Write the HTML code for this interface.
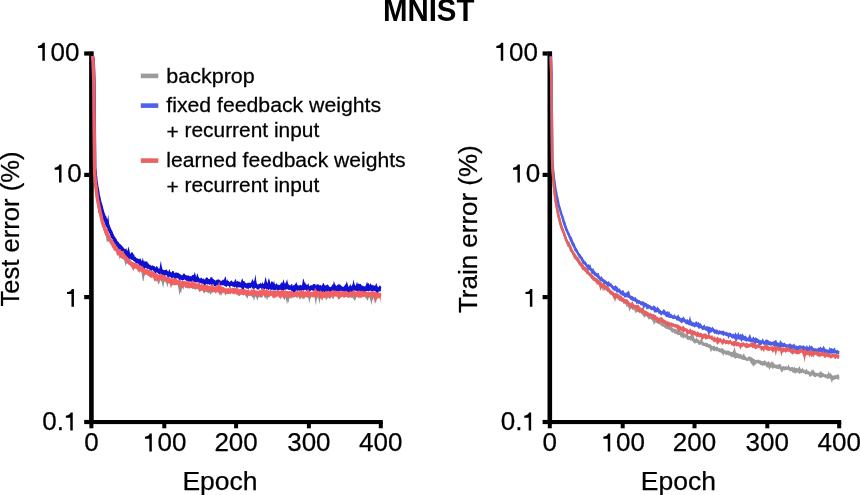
<!DOCTYPE html>
<html><head><meta charset="utf-8"><title>MNIST</title>
<style>
html,body{margin:0;padding:0;background:#fff;overflow:hidden;}
svg{display:block;will-change:transform;}
text{font-family:"Liberation Sans",sans-serif;fill:#000;stroke:#000;stroke-width:0.25px;}
</style></head><body>
<svg width="860" height="495" viewBox="0 0 860 495">
<rect width="860" height="495" fill="#fff"/>
<text transform="translate(428.70 21.30) scale(0.9350 1)" font-size="31.50" text-anchor="middle" font-weight="bold" style="stroke:none">MNIST</text>
<g fill="#000">
<rect x="89.10" y="51.3" width="4.6" height="372.8"/>
<rect x="89.10" y="420" width="293.70" height="4.1"/>
<rect x="84.20" y="51.40" width="5.2" height="4.2"/>
<rect x="84.20" y="172.80" width="5.2" height="4.2"/>
<rect x="84.20" y="295.00" width="5.2" height="4.2"/>
<rect x="84.20" y="419.90" width="5.2" height="4.2"/>
<rect x="89.40" y="422" width="4" height="6.3"/>
<rect x="162.30" y="422" width="4" height="6.3"/>
<rect x="234.10" y="422" width="4" height="6.3"/>
<rect x="306.90" y="422" width="4" height="6.3"/>
<rect x="378.80" y="422" width="4" height="6.3"/>
<rect x="547.50" y="51.3" width="4.6" height="372.8"/>
<rect x="547.50" y="420" width="293.70" height="4.1"/>
<rect x="542.60" y="51.40" width="5.2" height="4.2"/>
<rect x="542.60" y="172.80" width="5.2" height="4.2"/>
<rect x="542.60" y="295.00" width="5.2" height="4.2"/>
<rect x="542.60" y="419.90" width="5.2" height="4.2"/>
<rect x="547.80" y="422" width="4" height="6.3"/>
<rect x="620.70" y="422" width="4" height="6.3"/>
<rect x="692.50" y="422" width="4" height="6.3"/>
<rect x="765.30" y="422" width="4" height="6.3"/>
<rect x="837.20" y="422" width="4" height="6.3"/>
</g>
<g>
<path d="M92.4 56.4L93.1 61.3L93.8 82.8L94.6 172.3L95.3 180.8L96.0 187.1L96.7 192.3L97.4 196.3L98.2 201.3L98.9 203.8L99.6 207.7L100.3 212.1L101.1 215.1L101.8 215.8L102.5 219.3L103.2 221.5L103.9 225.2L104.7 226.2L105.4 228.7L106.1 230.9L106.8 233.2L107.5 233.0L108.3 234.0L109.0 236.2L109.7 237.6L110.4 238.6L111.1 239.4L111.9 240.4L112.6 240.8L113.3 243.0L114.0 243.7L114.8 244.5L115.5 246.3L116.2 247.3L116.9 248.6L117.6 248.2L118.4 249.1L119.1 250.3L119.8 250.2L120.5 251.5L121.2 252.8L122.0 253.6L122.7 254.2L123.4 254.2L124.1 255.7L124.8 253.5L125.6 253.9L126.3 257.5L127.0 258.1L127.7 258.9L128.4 258.0L129.2 257.5L129.9 259.4L130.6 260.3L131.3 261.3L132.1 262.4L132.8 262.5L133.5 262.0L134.2 262.9L134.9 263.3L135.7 263.1L136.4 264.7L137.1 262.6L137.8 264.2L138.5 264.8L139.3 264.6L140.0 266.2L140.7 266.7L141.4 266.9L142.1 267.7L142.9 268.5L143.6 268.6L144.3 267.1L145.0 269.1L145.8 270.1L146.5 270.4L147.2 270.5L147.9 269.9L148.6 269.9L149.4 268.0L150.1 270.3L150.8 272.7L151.5 272.0L152.2 270.9L153.0 272.1L153.7 273.2L154.4 272.8L155.1 273.3L155.8 275.2L156.6 275.1L157.3 275.5L158.0 275.4L158.7 274.5L159.5 274.7L160.2 275.1L160.9 276.0L161.6 275.9L162.3 274.7L163.1 274.6L163.8 276.7L164.5 275.7L165.2 275.6L165.9 275.5L166.7 277.8L167.4 278.5L168.1 277.5L168.8 277.7L169.5 278.1L170.3 278.1L171.0 279.6L171.7 279.1L172.4 279.4L173.2 279.2L173.9 279.0L174.6 279.1L175.3 279.0L176.0 280.9L176.8 280.3L177.5 280.4L178.2 280.2L178.9 282.4L179.6 281.2L180.4 281.4L181.1 282.0L181.8 281.1L182.5 281.8L183.2 281.6L184.0 281.9L184.7 281.8L185.4 283.6L186.1 283.2L186.9 283.3L187.6 282.4L188.3 283.2L189.0 283.7L189.7 283.6L190.5 283.3L191.2 283.0L191.9 283.8L192.6 283.3L193.3 284.2L194.1 284.1L194.8 284.7L195.5 284.5L196.2 283.8L196.9 284.1L197.7 284.4L198.4 284.2L199.1 282.3L199.8 283.2L200.6 285.0L201.3 285.7L202.0 285.0L202.7 285.7L203.4 286.7L204.2 287.0L204.9 286.9L205.6 286.4L206.3 285.3L207.0 284.2L207.8 285.0L208.5 285.8L209.2 286.8L209.9 286.7L210.6 286.3L211.4 287.3L212.1 286.3L212.8 286.1L213.5 287.6L214.2 287.3L215.0 287.8L215.7 286.9L216.4 285.1L217.1 283.2L217.9 286.4L218.6 286.7L219.3 287.7L220.0 287.9L220.7 288.6L221.5 289.4L222.2 288.0L222.9 287.6L223.6 287.9L224.3 288.8L225.1 289.6L225.8 289.4L226.5 288.4L227.2 287.6L227.9 290.1L228.7 289.0L229.4 288.4L230.1 289.5L230.8 289.6L231.6 289.1L232.3 287.8L233.0 287.5L233.7 288.3L234.4 290.0L235.2 289.9L235.9 289.7L236.6 289.0L237.3 289.4L238.0 290.0L238.8 289.6L239.5 289.1L240.2 289.7L240.9 289.5L241.6 289.4L242.4 289.8L243.1 289.7L243.8 290.0L244.5 288.7L245.3 289.2L246.0 290.0L246.7 290.8L247.4 291.0L248.1 290.3L248.9 291.0L249.6 291.3L250.3 291.6L251.0 292.1L251.7 291.6L252.5 291.8L253.2 290.3L253.9 289.9L254.6 291.6L255.3 290.6L256.1 291.2L256.8 290.8L257.5 291.2L258.2 291.1L259.0 290.6L259.7 289.6L260.4 289.5L261.1 291.6L261.8 290.5L262.6 290.1L263.3 291.5L264.0 290.8L264.7 291.6L265.4 291.8L266.2 291.0L266.9 291.1L267.6 291.8L268.3 292.2L269.0 291.8L269.8 291.6L270.5 291.8L271.2 291.9L271.9 292.0L272.6 290.4L273.4 289.3L274.1 290.7L274.8 290.5L275.5 290.9L276.3 291.5L277.0 291.9L277.7 291.7L278.4 292.2L279.1 290.8L279.9 290.9L280.6 292.4L281.3 292.0L282.0 292.4L282.7 292.0L283.5 292.5L284.2 290.8L284.9 291.6L285.6 292.5L286.3 291.8L287.1 291.6L287.8 291.7L288.5 292.8L289.2 291.0L290.0 290.8L290.7 291.8L291.4 292.5L292.1 291.5L292.8 291.5L293.6 291.2L294.3 291.6L295.0 292.0L295.7 292.0L296.4 292.1L297.2 292.2L297.9 291.8L298.6 291.8L299.3 291.5L300.0 292.3L300.8 292.2L301.5 293.0L302.2 292.3L302.9 293.5L303.7 293.7L304.4 292.3L305.1 291.5L305.8 292.2L306.5 291.6L307.3 291.7L308.0 291.0L308.7 291.3L309.4 292.4L310.1 292.3L310.9 292.0L311.6 291.7L312.3 292.1L313.0 292.3L313.7 292.6L314.5 292.2L315.2 293.1L315.9 293.1L316.6 292.4L317.4 291.7L318.1 291.9L318.8 292.5L319.5 291.8L320.2 291.9L321.0 291.6L321.7 291.9L322.4 293.3L323.1 293.1L323.8 291.9L324.6 291.9L325.3 290.7L326.0 292.5L326.7 293.0L327.4 292.9L328.2 291.2L328.9 291.4L329.6 292.2L330.3 290.9L331.1 291.6L331.8 292.6L332.5 292.1L333.2 293.0L333.9 292.3L334.7 292.1L335.4 291.9L336.1 292.1L336.8 292.3L337.5 292.0L338.3 293.0L339.0 291.5L339.7 291.3L340.4 292.0L341.1 291.9L341.9 292.4L342.6 292.3L343.3 292.1L344.0 292.1L344.8 293.3L345.5 292.7L346.2 292.9L346.9 293.0L347.6 293.2L348.4 292.2L349.1 292.1L349.8 291.4L350.5 292.6L351.2 292.5L352.0 291.3L352.7 292.8L353.4 291.6L354.1 293.0L354.8 292.9L355.6 293.0L356.3 291.6L357.0 291.8L357.7 291.9L358.4 292.6L359.2 293.5L359.9 291.1L360.6 292.5L361.3 291.4L362.1 291.0L362.8 290.9L363.5 291.4L364.2 291.0L364.9 291.4L365.7 292.1L366.4 293.0L367.1 294.1L367.8 292.2L368.5 292.2L369.3 291.8L370.0 293.6L370.7 292.1L371.4 292.9L372.1 293.0L372.9 292.2L373.6 291.3L374.3 291.7L375.0 292.3L375.8 293.1L376.5 294.2L377.2 293.3L377.9 291.9L378.6 292.5L379.4 293.3L380.1 293.6L380.8 293.8L380.8 297.3L380.1 297.2L379.4 297.6L378.6 297.2L377.9 296.8L377.2 298.6L376.5 300.6L375.8 303.3L375.0 300.4L374.3 296.8L373.6 297.3L372.9 299.4L372.1 300.7L371.4 305.6L370.7 301.2L370.0 299.0L369.3 297.1L368.5 298.3L367.8 300.9L367.1 299.8L366.4 298.7L365.7 298.2L364.9 296.8L364.2 296.5L363.5 297.0L362.8 296.5L362.1 295.7L361.3 295.6L360.6 295.7L359.9 295.8L359.2 297.1L358.4 297.4L357.7 296.7L357.0 296.0L356.3 297.0L355.6 299.5L354.8 301.2L354.1 299.4L353.4 298.8L352.7 298.2L352.0 297.2L351.2 298.3L350.5 297.6L349.8 296.4L349.1 297.5L348.4 297.9L347.6 297.3L346.9 296.8L346.2 297.4L345.5 296.7L344.8 297.6L344.0 297.6L343.3 296.7L342.6 296.4L341.9 297.0L341.1 297.3L340.4 297.4L339.7 297.5L339.0 296.9L338.3 296.7L337.5 296.8L336.8 296.8L336.1 296.5L335.4 296.2L334.7 296.3L333.9 297.3L333.2 299.0L332.5 298.5L331.8 296.9L331.1 296.4L330.3 298.6L329.6 298.8L328.9 297.8L328.2 296.9L327.4 298.6L326.7 299.5L326.0 300.6L325.3 297.3L324.6 297.7L323.8 296.8L323.1 297.7L322.4 297.1L321.7 297.1L321.0 297.8L320.2 299.4L319.5 304.2L318.8 300.0L318.1 297.7L317.4 297.3L316.6 300.1L315.9 305.7L315.2 301.1L314.5 297.2L313.7 297.0L313.0 296.3L312.3 297.3L311.6 296.5L310.9 297.5L310.1 299.5L309.4 303.5L308.7 299.4L308.0 296.7L307.3 298.2L306.5 297.0L305.8 296.9L305.1 296.7L304.4 298.7L303.7 299.6L302.9 297.5L302.2 299.2L301.5 297.1L300.8 297.1L300.0 299.5L299.3 298.7L298.6 296.5L297.9 296.8L297.2 298.8L296.4 297.4L295.7 296.4L295.0 295.8L294.3 296.7L293.6 297.8L292.8 296.2L292.1 296.3L291.4 298.5L290.7 299.3L290.0 296.7L289.2 299.1L288.5 303.0L287.8 300.4L287.1 304.8L286.3 300.4L285.6 297.8L284.9 296.8L284.2 296.5L283.5 299.1L282.7 297.1L282.0 296.5L281.3 298.5L280.6 299.6L279.9 297.1L279.1 295.9L278.4 295.6L277.7 296.3L277.0 295.8L276.3 296.9L275.5 296.1L274.8 295.1L274.1 296.7L273.4 295.2L272.6 296.0L271.9 296.4L271.2 295.6L270.5 295.9L269.8 296.7L269.0 297.2L268.3 296.8L267.6 299.2L266.9 300.1L266.2 296.7L265.4 298.4L264.7 298.2L264.0 295.6L263.3 295.5L262.6 296.4L261.8 298.0L261.1 297.6L260.4 297.4L259.7 297.2L259.0 296.5L258.2 298.1L257.5 300.6L256.8 299.0L256.1 296.9L255.3 296.5L254.6 298.6L253.9 301.4L253.2 297.3L252.5 297.7L251.7 296.4L251.0 296.1L250.3 295.2L249.6 296.2L248.9 295.6L248.1 296.0L247.4 299.2L246.7 297.5L246.0 296.3L245.3 295.2L244.5 294.5L243.8 295.2L243.1 295.4L242.4 294.9L241.6 294.6L240.9 294.6L240.2 295.5L239.5 296.3L238.8 295.7L238.0 295.6L237.3 294.1L236.6 293.6L235.9 293.4L235.2 293.6L234.4 294.4L233.7 293.1L233.0 292.8L232.3 292.4L231.6 292.6L230.8 293.5L230.1 293.6L229.4 293.5L228.7 293.6L227.9 294.3L227.2 294.1L226.5 293.6L225.8 295.5L225.1 294.9L224.3 293.1L223.6 291.3L222.9 291.8L222.2 292.8L221.5 295.7L220.7 293.9L220.0 294.3L219.3 294.0L218.6 292.9L217.9 292.3L217.1 291.9L216.4 291.2L215.7 291.7L215.0 292.6L214.2 291.7L213.5 291.9L212.8 291.8L212.1 291.5L211.4 293.7L210.6 294.8L209.9 293.7L209.2 292.0L208.5 293.6L207.8 292.8L207.0 292.2L206.3 291.8L205.6 291.7L204.9 291.6L204.2 293.7L203.4 292.3L202.7 290.7L202.0 289.6L201.3 290.8L200.6 290.9L199.8 292.5L199.1 291.1L198.4 289.5L197.7 288.7L196.9 288.6L196.2 289.5L195.5 289.8L194.8 289.3L194.1 289.1L193.3 288.3L192.6 289.0L191.9 287.9L191.2 287.7L190.5 288.3L189.7 288.7L189.0 287.7L188.3 287.9L187.6 286.6L186.9 287.4L186.1 287.8L185.4 288.2L184.7 285.9L184.0 287.3L183.2 290.1L182.5 287.9L181.8 288.4L181.1 293.8L180.4 290.9L179.6 296.0L178.9 291.6L178.2 287.0L177.5 284.5L176.8 284.6L176.0 285.3L175.3 285.3L174.6 284.7L173.9 284.5L173.2 285.7L172.4 285.0L171.7 285.3L171.0 284.6L170.3 284.5L169.5 283.2L168.8 283.1L168.1 284.4L167.4 287.8L166.7 284.2L165.9 282.5L165.2 281.1L164.5 281.1L163.8 284.1L163.1 288.2L162.3 284.5L161.6 281.7L160.9 280.2L160.2 279.6L159.5 283.1L158.7 284.7L158.0 282.5L157.3 280.1L156.6 281.7L155.8 281.1L155.1 280.4L154.4 278.3L153.7 277.1L153.0 276.7L152.2 277.7L151.5 278.1L150.8 277.7L150.1 276.4L149.4 275.4L148.6 275.0L147.9 274.8L147.2 274.7L146.5 274.8L145.8 274.0L145.0 274.6L144.3 276.7L143.6 281.0L142.9 280.9L142.1 276.2L141.4 272.2L140.7 271.3L140.0 270.3L139.3 270.0L138.5 271.6L137.8 271.8L137.1 269.5L136.4 268.3L135.7 268.5L134.9 268.5L134.2 268.4L133.5 268.2L132.8 267.5L132.1 267.0L131.3 265.8L130.6 265.3L129.9 265.1L129.2 264.6L128.4 263.3L127.7 263.8L127.0 263.6L126.3 263.7L125.6 266.2L124.8 262.6L124.1 260.2L123.4 259.1L122.7 258.6L122.0 258.9L121.2 257.9L120.5 257.5L119.8 259.8L119.1 256.9L118.4 254.1L117.6 255.9L116.9 255.3L116.2 252.8L115.5 250.5L114.8 249.9L114.0 248.7L113.3 247.8L112.6 248.4L111.9 245.9L111.1 244.1L110.4 243.3L109.7 241.6L109.0 241.2L108.3 241.4L107.5 241.4L106.8 242.3L106.1 237.7L105.4 233.9L104.7 231.0L103.9 228.9L103.2 226.4L102.5 225.4L101.8 225.9L101.1 220.5L100.3 217.1L99.6 213.1L98.9 212.9L98.2 213.0L97.4 203.9L96.7 196.4L96.0 191.2L95.3 182.8L94.6 173.0L93.8 82.8L93.1 61.3L92.4 56.4Z" fill="#8f8f8f"/>
<path d="M92.4 56.4L93.1 61.3L93.8 82.8L94.6 172.6L95.3 181.7L96.0 188.2L96.7 193.6L97.4 198.7L98.2 203.0L98.9 206.5L99.6 210.1L100.3 213.8L101.1 216.8L101.8 219.0L102.5 221.3L103.2 223.5L103.9 226.8L104.7 228.8L105.4 231.0L106.1 232.8L106.8 235.0L107.5 236.5L108.3 237.5L109.0 238.9L109.7 239.7L110.4 241.2L111.1 241.8L111.9 243.5L112.6 245.0L113.3 245.7L114.0 246.3L114.8 247.0L115.5 248.3L116.2 249.9L116.9 250.7L117.6 250.9L118.4 251.3L119.1 252.5L119.8 252.7L120.5 253.5L121.2 254.5L122.0 255.8L122.7 256.5L123.4 257.2L124.1 257.6L124.8 258.0L125.6 259.1L126.3 260.1L127.0 260.3L127.7 260.8L128.4 261.3L129.2 262.2L129.9 262.8L130.6 263.3L131.3 263.8L132.1 264.5L132.8 264.3L133.5 264.5L134.2 265.0L134.9 265.8L135.7 265.9L136.4 266.4L137.1 267.5L137.8 268.3L138.5 268.0L139.3 267.1L140.0 267.8L140.7 268.4L141.4 268.9L142.1 269.9L142.9 271.1L143.6 270.8L144.3 270.9L145.0 271.7L145.8 272.0L146.5 272.2L147.2 272.3L147.9 272.9L148.6 273.2L149.4 272.5L150.1 273.0L150.8 274.6L151.5 275.0L152.2 274.6L153.0 274.5L153.7 275.0L154.4 275.1L155.1 275.9L155.8 277.0L156.6 277.0L157.3 277.3L158.0 277.2L158.7 277.6L159.5 278.0L160.2 277.3L160.9 277.7L161.6 278.2L162.3 278.8L163.1 279.6L163.8 279.3L164.5 278.6L165.2 278.9L165.9 279.0L166.7 279.6L167.4 280.7L168.1 280.1L168.8 280.3L169.5 280.5L170.3 281.2L171.0 281.4L171.7 281.4L172.4 281.6L173.2 282.0L173.9 281.5L174.6 281.4L175.3 281.8L176.0 282.8L176.8 282.5L177.5 282.1L178.2 282.9L178.9 284.1L179.6 283.7L180.4 283.9L181.1 283.9L181.8 283.7L182.5 283.5L183.2 283.8L184.0 283.7L184.7 283.7L185.4 285.5L186.1 285.5L186.9 285.0L187.6 284.8L188.3 284.9L189.0 285.6L189.7 285.6L190.5 285.6L191.2 285.2L191.9 286.1L192.6 286.9L193.3 286.4L194.1 286.6L194.8 286.7L195.5 287.2L196.2 287.3L196.9 286.9L197.7 286.7L198.4 287.1L199.1 287.2L199.8 287.1L200.6 287.6L201.3 287.7L202.0 287.3L202.7 288.1L203.4 289.4L204.2 288.9L204.9 288.7L205.6 289.3L206.3 288.2L207.0 287.0L207.8 287.1L208.5 287.8L209.2 288.8L209.9 289.1L210.6 288.3L211.4 289.1L212.1 288.9L212.8 289.3L213.5 289.7L214.2 289.8L215.0 289.7L215.7 289.6L216.4 289.3L217.1 290.0L217.9 290.6L218.6 291.0L219.3 291.6L220.0 291.2L220.7 291.1L221.5 291.3L222.2 290.7L222.9 289.7L223.6 289.6L224.3 291.1L225.1 291.4L225.8 291.3L226.5 291.0L227.2 291.4L227.9 292.1L228.7 291.4L229.4 290.7L230.1 291.2L230.8 291.8L231.6 290.8L232.3 289.9L233.0 290.0L233.7 290.8L234.4 291.9L235.2 291.8L235.9 291.3L236.6 291.2L237.3 291.7L238.0 291.9L238.8 291.8L239.5 291.8L240.2 292.1L240.9 292.6L241.6 291.5L242.4 291.9L243.1 292.1L243.8 292.6L244.5 292.6L245.3 292.8L246.0 292.9L246.7 293.0L247.4 293.0L248.1 292.4L248.9 293.0L249.6 293.0L250.3 293.3L251.0 293.9L251.7 294.0L252.5 293.8L253.2 292.2L253.9 292.5L254.6 293.3L255.3 292.8L256.1 293.2L256.8 294.1L257.5 293.8L258.2 293.1L259.0 293.5L259.7 293.8L260.4 293.5L261.1 293.4L261.8 293.3L262.6 292.9L263.3 293.2L264.0 293.2L264.7 293.7L265.4 293.8L266.2 293.4L266.9 293.9L267.6 294.0L268.3 293.9L269.0 294.0L269.8 293.7L270.5 293.7L271.2 293.8L271.9 294.0L272.6 294.0L273.4 293.0L274.1 293.1L274.8 292.9L275.5 293.5L276.3 294.0L277.0 294.2L277.7 294.5L278.4 293.9L279.1 292.7L279.9 293.4L280.6 294.8L281.3 295.0L282.0 294.1L282.7 293.7L283.5 294.6L284.2 293.6L284.9 294.0L285.6 294.2L286.3 294.1L287.1 293.6L287.8 294.0L288.5 294.5L289.2 293.9L290.0 293.5L290.7 294.0L291.4 294.2L292.1 294.1L292.8 293.9L293.6 294.4L294.3 294.1L295.0 293.8L295.7 294.2L296.4 294.3L297.2 294.1L297.9 293.4L298.6 293.8L299.3 294.5L300.0 294.9L300.8 294.7L301.5 294.6L302.2 294.8L302.9 295.2L303.7 295.4L304.4 294.8L305.1 294.3L305.8 294.2L306.5 293.6L307.3 294.1L308.0 294.2L308.7 294.4L309.4 294.6L310.1 294.3L310.9 293.7L311.6 293.9L312.3 294.0L313.0 294.4L313.7 294.5L314.5 294.2L315.2 294.8L315.9 295.1L316.6 294.6L317.4 294.5L318.1 293.8L318.8 294.1L319.5 294.6L320.2 293.7L321.0 293.8L321.7 294.2L322.4 295.0L323.1 295.1L323.8 294.4L324.6 294.0L325.3 293.4L326.0 294.5L326.7 295.0L327.4 294.8L328.2 293.7L328.9 294.2L329.6 294.0L330.3 293.1L331.1 293.8L331.8 294.5L332.5 294.9L333.2 294.6L333.9 294.4L334.7 294.6L335.4 294.4L336.1 294.0L336.8 294.0L337.5 294.4L338.3 294.9L339.0 295.3L339.7 294.8L340.4 295.2L341.1 295.1L341.9 295.0L342.6 294.2L343.3 293.9L344.0 294.4L344.8 294.9L345.5 294.9L346.2 295.0L346.9 295.0L347.6 295.1L348.4 294.7L349.1 294.4L349.8 294.7L350.5 295.0L351.2 295.4L352.0 294.8L352.7 294.6L353.4 294.7L354.1 295.2L354.8 295.3L355.6 294.9L356.3 293.9L357.0 293.8L357.7 294.6L358.4 295.2L359.2 295.2L359.9 294.1L360.6 294.1L361.3 293.8L362.1 294.0L362.8 294.6L363.5 295.1L364.2 294.5L364.9 294.3L365.7 294.7L366.4 295.7L367.1 295.8L367.8 294.4L368.5 294.4L369.3 294.8L370.0 295.4L370.7 295.5L371.4 295.5L372.1 294.7L372.9 294.7L373.6 294.6L374.3 294.4L375.0 294.6L375.8 294.8L376.5 295.9L377.2 295.4L377.9 294.6L378.6 294.9L379.4 295.7L380.1 295.3L380.8 295.5" stroke="#8f8f8f" stroke-width="2.80" fill="none" stroke-linejoin="round"/>
<path d="M92.4 56.1L93.1 60.4L93.8 79.4L94.6 166.7L95.3 172.8L96.0 178.3L96.7 180.8L97.4 186.7L98.2 191.9L98.9 196.4L99.6 198.8L100.3 201.9L101.1 202.2L101.8 204.1L102.5 207.8L103.2 211.3L103.9 212.9L104.7 214.7L105.4 216.1L106.1 215.6L106.8 219.1L107.5 219.0L108.3 214.7L109.0 222.8L109.7 226.3L110.4 229.3L111.1 230.2L111.9 232.3L112.6 233.8L113.3 234.7L114.0 236.0L114.8 237.6L115.5 238.5L116.2 238.6L116.9 241.2L117.6 242.6L118.4 241.7L119.1 242.9L119.8 244.8L120.5 244.6L121.2 245.1L122.0 245.8L122.7 246.4L123.4 248.0L124.1 248.4L124.8 249.9L125.6 248.9L126.3 248.1L127.0 251.1L127.7 250.0L128.4 246.2L129.2 249.2L129.9 252.7L130.6 253.9L131.3 252.2L132.1 252.2L132.8 252.7L133.5 254.4L134.2 254.6L134.9 257.5L135.7 256.4L136.4 258.4L137.1 258.2L137.8 258.6L138.5 258.9L139.3 259.2L140.0 258.2L140.7 258.7L141.4 260.8L142.1 260.4L142.9 257.6L143.6 261.3L144.3 260.8L145.0 262.3L145.8 261.1L146.5 261.5L147.2 261.4L147.9 263.0L148.6 263.6L149.4 264.9L150.1 264.4L150.8 265.6L151.5 266.2L152.2 265.6L153.0 265.4L153.7 266.1L154.4 266.1L155.1 267.7L155.8 267.2L156.6 266.1L157.3 266.4L158.0 267.8L158.7 269.6L159.5 268.3L160.2 264.5L160.9 260.5L161.6 265.4L162.3 268.8L163.1 269.8L163.8 270.2L164.5 270.2L165.2 269.8L165.9 269.9L166.7 269.2L167.4 271.2L168.1 272.0L168.8 270.5L169.5 269.1L170.3 271.6L171.0 272.6L171.7 272.2L172.4 270.8L173.2 271.0L173.9 271.4L174.6 273.8L175.3 273.0L176.0 271.8L176.8 273.0L177.5 272.8L178.2 272.7L178.9 273.3L179.6 274.0L180.4 274.3L181.1 275.1L181.8 275.3L182.5 275.3L183.2 273.7L184.0 273.6L184.7 273.7L185.4 274.9L186.1 275.6L186.9 275.2L187.6 275.8L188.3 275.4L189.0 275.3L189.7 276.5L190.5 276.0L191.2 276.5L191.9 275.6L192.6 275.1L193.3 275.0L194.1 274.3L194.8 272.0L195.5 274.6L196.2 277.0L196.9 274.8L197.7 273.3L198.4 276.7L199.1 277.7L199.8 279.1L200.6 278.0L201.3 277.6L202.0 278.2L202.7 279.8L203.4 278.3L204.2 279.1L204.9 280.0L205.6 278.1L206.3 277.4L207.0 277.5L207.8 277.7L208.5 278.9L209.2 278.9L209.9 279.2L210.6 277.0L211.4 277.4L212.1 276.6L212.8 278.9L213.5 278.9L214.2 279.8L215.0 280.2L215.7 280.7L216.4 280.1L217.1 279.2L217.9 280.1L218.6 279.1L219.3 280.2L220.0 279.6L220.7 281.2L221.5 281.2L222.2 279.5L222.9 280.6L223.6 279.4L224.3 279.2L225.1 276.2L225.8 277.2L226.5 281.1L227.2 279.2L227.9 280.7L228.7 280.9L229.4 282.2L230.1 282.0L230.8 280.6L231.6 280.4L232.3 281.3L233.0 282.4L233.7 281.8L234.4 281.2L235.2 279.6L235.9 279.0L236.6 282.0L237.3 281.0L238.0 280.7L238.8 282.0L239.5 281.6L240.2 282.4L240.9 281.9L241.6 279.8L242.4 278.3L243.1 280.8L243.8 281.3L244.5 281.2L245.3 282.5L246.0 283.1L246.7 283.9L247.4 283.0L248.1 282.6L248.9 282.9L249.6 282.6L250.3 283.0L251.0 282.4L251.7 280.8L252.5 278.8L253.2 280.5L253.9 281.7L254.6 279.3L255.3 274.3L256.1 279.4L256.8 283.4L257.5 285.0L258.2 284.4L259.0 284.4L259.7 283.9L260.4 282.7L261.1 284.1L261.8 283.4L262.6 282.0L263.3 284.0L264.0 283.5L264.7 281.0L265.4 276.7L266.2 279.3L266.9 282.1L267.6 283.3L268.3 280.1L269.0 278.0L269.8 281.0L270.5 283.9L271.2 281.8L271.9 281.2L272.6 281.7L273.4 283.1L274.1 280.5L274.8 284.1L275.5 284.4L276.3 283.2L277.0 283.6L277.7 285.2L278.4 284.4L279.1 285.2L279.9 284.8L280.6 283.7L281.3 281.9L282.0 283.5L282.7 282.1L283.5 279.1L284.2 281.9L284.9 283.7L285.6 283.0L286.3 281.8L287.1 279.1L287.8 282.6L288.5 284.6L289.2 284.8L290.0 285.7L290.7 285.0L291.4 284.3L292.1 283.8L292.8 286.2L293.6 285.1L294.3 285.3L295.0 284.2L295.7 283.2L296.4 281.9L297.2 284.6L297.9 285.6L298.6 285.5L299.3 285.6L300.0 284.7L300.8 284.9L301.5 285.7L302.2 284.2L302.9 280.0L303.7 278.5L304.4 282.2L305.1 282.5L305.8 283.9L306.5 284.4L307.3 285.3L308.0 283.3L308.7 284.0L309.4 286.7L310.1 285.7L310.9 285.1L311.6 285.2L312.3 285.6L313.0 284.3L313.7 284.0L314.5 284.0L315.2 283.9L315.9 286.1L316.6 284.3L317.4 284.0L318.1 285.3L318.8 284.1L319.5 285.4L320.2 285.1L321.0 285.3L321.7 286.0L322.4 284.4L323.1 283.1L323.8 283.2L324.6 285.2L325.3 286.1L326.0 284.7L326.7 285.8L327.4 284.1L328.2 285.6L328.9 285.4L329.6 287.0L330.3 287.2L331.1 286.7L331.8 285.7L332.5 284.6L333.2 284.3L333.9 280.8L334.7 283.4L335.4 284.6L336.1 286.2L336.8 285.6L337.5 284.7L338.3 284.7L339.0 283.5L339.7 284.8L340.4 284.4L341.1 286.3L341.9 286.9L342.6 286.5L343.3 286.9L344.0 286.6L344.8 285.4L345.5 284.2L346.2 283.3L346.9 281.0L347.6 284.0L348.4 286.7L349.1 287.1L349.8 284.9L350.5 284.0L351.2 286.7L352.0 285.2L352.7 284.0L353.4 279.2L354.1 282.6L354.8 284.5L355.6 285.9L356.3 284.1L357.0 281.4L357.7 283.9L358.4 283.6L359.2 283.7L359.9 284.2L360.6 283.8L361.3 284.8L362.1 286.1L362.8 285.6L363.5 286.2L364.2 285.7L364.9 287.0L365.7 285.6L366.4 283.6L367.1 281.4L367.8 283.9L368.5 282.8L369.3 285.0L370.0 284.3L370.7 283.1L371.4 284.7L372.1 285.4L372.9 284.7L373.6 285.4L374.3 285.6L375.0 286.1L375.8 284.0L376.5 283.1L377.2 285.7L377.9 286.9L378.6 287.3L379.4 285.4L380.1 286.0L380.8 285.5L380.8 291.0L380.1 291.6L379.4 291.4L378.6 291.4L377.9 292.4L377.2 293.8L376.5 293.0L375.8 291.6L375.0 291.3L374.3 291.0L373.6 290.7L372.9 290.2L372.1 292.3L371.4 291.1L370.7 290.3L370.0 290.3L369.3 290.9L368.5 291.4L367.8 290.9L367.1 290.6L366.4 291.5L365.7 291.7L364.9 292.0L364.2 294.3L363.5 293.3L362.8 291.5L362.1 291.1L361.3 291.5L360.6 291.8L359.9 291.9L359.2 291.2L358.4 292.5L357.7 291.7L357.0 291.2L356.3 290.7L355.6 290.8L354.8 290.0L354.1 291.1L353.4 290.9L352.7 291.9L352.0 291.9L351.2 292.8L350.5 294.4L349.8 294.7L349.1 293.2L348.4 292.8L347.6 291.9L346.9 291.2L346.2 291.6L345.5 291.4L344.8 291.5L344.0 291.8L343.3 291.7L342.6 290.7L341.9 291.6L341.1 291.1L340.4 290.4L339.7 290.9L339.0 292.2L338.3 290.9L337.5 291.4L336.8 291.3L336.1 293.0L335.4 292.0L334.7 291.5L333.9 292.4L333.2 291.6L332.5 290.5L331.8 290.7L331.1 291.5L330.3 292.3L329.6 292.7L328.9 291.3L328.2 290.7L327.4 292.7L326.7 291.4L326.0 291.0L325.3 294.3L324.6 293.8L323.8 290.8L323.1 291.8L322.4 293.3L321.7 292.6L321.0 290.4L320.2 291.3L319.5 292.4L318.8 291.1L318.1 291.6L317.4 292.0L316.6 292.2L315.9 292.8L315.2 292.4L314.5 290.1L313.7 291.4L313.0 290.3L312.3 290.7L311.6 290.1L310.9 290.5L310.1 290.5L309.4 292.0L308.7 290.7L308.0 290.6L307.3 290.6L306.5 290.9L305.8 290.0L305.1 289.1L304.4 290.4L303.7 290.8L302.9 290.2L302.2 290.2L301.5 291.1L300.8 290.5L300.0 290.1L299.3 291.4L298.6 289.9L297.9 291.7L297.2 291.4L296.4 289.9L295.7 291.1L295.0 293.0L294.3 291.9L293.6 292.7L292.8 291.4L292.1 290.9L291.4 290.9L290.7 289.7L290.0 290.1L289.2 289.8L288.5 289.8L287.8 289.4L287.1 288.3L286.3 289.8L285.6 289.6L284.9 289.4L284.2 290.0L283.5 291.3L282.7 290.5L282.0 290.1L281.3 290.7L280.6 289.5L279.9 289.8L279.1 289.9L278.4 290.5L277.7 290.1L277.0 290.1L276.3 289.2L275.5 290.4L274.8 290.2L274.1 290.0L273.4 289.4L272.6 289.5L271.9 290.3L271.2 289.4L270.5 290.2L269.8 288.8L269.0 289.6L268.3 290.5L267.6 289.1L266.9 289.3L266.2 289.7L265.4 288.3L264.7 289.3L264.0 290.2L263.3 289.1L262.6 288.4L261.8 290.3L261.1 288.5L260.4 287.7L259.7 288.1L259.0 289.2L258.2 289.8L257.5 289.5L256.8 289.0L256.1 287.4L255.3 288.1L254.6 288.4L253.9 289.1L253.2 289.7L252.5 288.5L251.7 286.8L251.0 288.5L250.3 288.3L249.6 287.7L248.9 288.4L248.1 289.3L247.4 288.4L246.7 288.2L246.0 288.8L245.3 287.2L244.5 287.5L243.8 289.2L243.1 289.5L242.4 290.6L241.6 288.7L240.9 287.1L240.2 287.9L239.5 287.3L238.8 287.5L238.0 287.0L237.3 288.3L236.6 288.5L235.9 286.5L235.2 287.2L234.4 287.3L233.7 286.6L233.0 287.1L232.3 285.7L231.6 285.9L230.8 286.1L230.1 286.8L229.4 287.9L228.7 285.6L227.9 285.6L227.2 286.1L226.5 287.3L225.8 286.6L225.1 286.2L224.3 285.8L223.6 285.0L222.9 285.6L222.2 285.1L221.5 285.2L220.7 285.5L220.0 285.4L219.3 285.0L218.6 284.7L217.9 285.7L217.1 284.6L216.4 285.3L215.7 286.5L215.0 286.3L214.2 286.2L213.5 284.2L212.8 284.3L212.1 285.5L211.4 284.8L210.6 284.3L209.9 285.1L209.2 284.7L208.5 284.1L207.8 284.5L207.0 283.9L206.3 284.1L205.6 285.1L204.9 287.0L204.2 285.6L203.4 283.8L202.7 283.7L202.0 283.0L201.3 283.7L200.6 282.9L199.8 283.4L199.1 283.4L198.4 282.0L197.7 282.1L196.9 282.9L196.2 281.9L195.5 281.9L194.8 281.9L194.1 282.1L193.3 281.4L192.6 281.1L191.9 282.4L191.2 281.9L190.5 281.6L189.7 281.7L189.0 281.6L188.3 281.7L187.6 280.6L186.9 280.5L186.1 281.7L185.4 279.4L184.7 278.7L184.0 280.3L183.2 279.9L182.5 280.7L181.8 280.2L181.1 279.9L180.4 279.2L179.6 281.4L178.9 280.2L178.2 278.2L177.5 278.6L176.8 277.9L176.0 278.0L175.3 279.2L174.6 278.5L173.9 277.3L173.2 276.9L172.4 278.2L171.7 278.8L171.0 277.3L170.3 276.9L169.5 276.6L168.8 276.7L168.1 278.5L167.4 277.1L166.7 275.2L165.9 274.8L165.2 274.8L164.5 276.0L163.8 276.1L163.1 274.2L162.3 275.2L161.6 274.4L160.9 274.7L160.2 273.2L159.5 274.9L158.7 273.7L158.0 273.6L157.3 272.3L156.6 271.4L155.8 273.8L155.1 274.7L154.4 272.5L153.7 270.5L153.0 270.2L152.2 269.6L151.5 271.0L150.8 271.4L150.1 269.3L149.4 269.3L148.6 268.5L147.9 269.0L147.2 269.2L146.5 268.3L145.8 267.4L145.0 268.4L144.3 268.7L143.6 268.5L142.9 267.2L142.1 266.4L141.4 266.2L140.7 266.3L140.0 267.1L139.3 265.2L138.5 263.7L137.8 263.0L137.1 263.0L136.4 263.8L135.7 263.2L134.9 261.8L134.2 261.3L133.5 260.7L132.8 259.8L132.1 259.7L131.3 259.4L130.6 259.3L129.9 258.6L129.2 259.6L128.4 257.7L127.7 257.5L127.0 257.1L126.3 256.5L125.6 255.3L124.8 255.7L124.1 253.8L123.4 252.2L122.7 253.5L122.0 250.8L121.2 251.2L120.5 250.2L119.8 249.0L119.1 247.7L118.4 248.9L117.6 248.3L116.9 245.5L116.2 244.9L115.5 244.7L114.8 243.4L114.0 240.9L113.3 239.8L112.6 238.7L111.9 237.3L111.1 234.8L110.4 234.2L109.7 232.6L109.0 230.9L108.3 229.0L107.5 228.4L106.8 227.1L106.1 225.3L105.4 222.6L104.7 221.2L103.9 219.3L103.2 217.0L102.5 215.0L101.8 213.1L101.1 210.3L100.3 207.4L99.6 205.0L98.9 200.8L98.2 197.2L97.4 193.4L96.7 188.3L96.0 182.7L95.3 176.3L94.6 168.0L93.8 79.4L93.1 60.4L92.4 56.1Z" fill="#1010d2"/>
<path d="M92.4 56.1L93.1 60.4L93.8 79.4L94.6 167.5L95.3 175.4L96.0 181.5L96.7 186.5L97.4 190.4L98.2 195.0L98.9 198.4L99.6 201.6L100.3 204.2L101.1 206.8L101.8 209.8L102.5 212.4L103.2 214.2L103.9 216.4L104.7 218.6L105.4 219.9L106.1 221.6L106.8 224.0L107.5 225.4L108.3 226.5L109.0 228.5L109.7 230.2L110.4 231.4L111.1 232.8L111.9 235.0L112.6 236.8L113.3 237.6L114.0 238.5L114.8 240.2L115.5 241.5L116.2 242.3L116.9 243.6L117.6 244.7L118.4 245.1L119.1 245.7L119.8 247.0L120.5 248.1L121.2 248.9L122.0 248.8L122.7 249.5L123.4 250.1L124.1 250.6L124.8 252.0L125.6 252.9L126.3 253.3L127.0 254.6L127.7 255.2L128.4 255.6L129.2 256.1L129.9 256.5L130.6 256.3L131.3 257.4L132.1 257.8L132.8 257.5L133.5 258.5L134.2 259.1L134.9 259.8L135.7 259.9L136.4 260.4L137.1 260.8L137.8 261.0L138.5 261.7L139.3 262.1L140.0 262.5L140.7 262.8L141.4 263.7L142.1 264.0L142.9 264.0L143.6 264.7L144.3 265.6L145.0 265.8L145.8 265.0L146.5 265.9L147.2 266.3L147.9 266.2L148.6 266.4L149.4 267.2L150.1 267.0L150.8 267.9L151.5 268.4L152.2 267.6L153.0 267.9L153.7 268.2L154.4 269.2L155.1 270.4L155.8 270.5L156.6 269.3L157.3 269.8L158.0 270.9L158.7 271.6L159.5 271.3L160.2 271.0L160.9 271.5L161.6 271.7L162.3 271.8L163.1 271.9L163.8 272.5L164.5 272.8L165.2 272.9L165.9 272.8L166.7 272.6L167.4 273.3L168.1 274.2L168.8 273.8L169.5 273.7L170.3 274.8L171.0 275.3L171.7 275.8L172.4 275.2L173.2 274.7L173.9 274.8L174.6 276.3L175.3 276.9L176.0 275.8L176.8 275.7L177.5 276.3L178.2 276.1L178.9 276.3L179.6 276.6L180.4 277.1L181.1 277.6L181.8 277.5L182.5 277.7L183.2 277.5L184.0 277.4L184.7 276.7L185.4 277.1L186.1 278.2L186.9 278.2L187.6 278.6L188.3 279.1L189.0 279.5L189.7 279.5L190.5 279.5L191.2 279.1L191.9 278.7L192.6 278.8L193.3 278.9L194.1 278.9L194.8 279.2L195.5 279.7L196.2 280.0L196.9 279.6L197.7 279.2L198.4 280.0L199.1 280.6L199.8 281.1L200.6 280.9L201.3 280.4L202.0 280.7L202.7 281.8L203.4 281.9L204.2 282.3L204.9 282.3L205.6 281.3L206.3 281.5L207.0 281.8L207.8 282.0L208.5 282.0L209.2 281.9L209.9 281.7L210.6 281.2L211.4 281.6L212.1 281.7L212.8 282.0L213.5 282.2L214.2 282.7L215.0 282.9L215.7 282.8L216.4 282.8L217.1 282.7L217.9 282.5L218.6 282.6L219.3 282.7L220.0 283.1L220.7 283.2L221.5 283.2L222.2 282.8L222.9 283.4L223.6 283.0L224.3 282.9L225.1 283.2L225.8 283.3L226.5 283.6L227.2 283.3L227.9 283.1L228.7 283.5L229.4 284.4L230.1 284.0L230.8 283.5L231.6 283.7L232.3 283.7L233.0 284.6L233.7 283.9L234.4 284.4L235.2 284.5L235.9 283.9L236.6 284.6L237.3 285.2L238.0 285.0L238.8 285.0L239.5 285.3L240.2 285.1L240.9 285.0L241.6 285.0L242.4 285.1L243.1 284.8L243.8 285.2L244.5 284.9L245.3 284.7L246.0 285.5L246.7 286.3L247.4 286.0L248.1 285.4L248.9 285.6L249.6 285.4L250.3 285.5L251.0 285.3L251.7 284.7L252.5 285.3L253.2 285.2L253.9 285.1L254.6 284.9L255.3 284.9L256.1 285.4L256.8 286.5L257.5 286.9L258.2 286.5L259.0 286.6L259.7 285.9L260.4 285.3L261.1 286.1L261.8 286.5L262.6 286.3L263.3 286.5L264.0 286.6L264.7 285.9L265.4 285.7L266.2 286.2L266.9 286.4L267.6 286.6L268.3 287.3L269.0 287.5L269.8 286.9L270.5 287.1L271.2 287.4L271.9 287.4L272.6 287.4L273.4 287.0L274.1 287.5L274.8 288.1L275.5 287.6L276.3 286.9L277.0 287.4L277.7 287.8L278.4 287.4L279.1 287.2L279.9 287.6L280.6 286.9L281.3 287.3L282.0 287.1L282.7 286.9L283.5 287.7L284.2 287.5L284.9 287.0L285.6 287.4L286.3 287.0L287.1 286.4L287.8 286.9L288.5 287.6L289.2 287.9L290.0 287.7L290.7 287.7L291.4 287.8L292.1 287.8L292.8 288.2L293.6 287.9L294.3 287.9L295.0 287.8L295.7 287.2L296.4 287.5L297.2 288.4L297.9 288.1L298.6 287.8L299.3 287.9L300.0 287.7L300.8 287.8L301.5 287.7L302.2 287.7L302.9 287.5L303.7 288.2L304.4 287.7L305.1 287.2L305.8 287.6L306.5 287.8L307.3 287.9L308.0 287.6L308.7 288.6L309.4 289.6L310.1 288.1L310.9 288.0L311.6 288.1L312.3 287.9L313.0 287.2L313.7 287.4L314.5 288.2L315.2 288.5L315.9 288.8L316.6 288.2L317.4 288.7L318.1 289.5L318.8 288.2L319.5 287.7L320.2 288.1L321.0 288.4L321.7 288.7L322.4 288.4L323.1 288.0L323.8 288.7L324.6 289.8L325.3 288.9L326.0 287.3L326.7 287.8L327.4 288.1L328.2 288.5L328.9 288.7L329.6 289.4L330.3 289.3L331.1 289.0L331.8 288.7L332.5 288.5L333.2 288.8L333.9 289.2L334.7 288.9L335.4 288.6L336.1 289.1L336.8 288.8L337.5 288.4L338.3 288.1L339.0 288.1L339.7 287.8L340.4 287.4L341.1 288.7L341.9 289.0L342.6 288.7L343.3 289.1L344.0 289.0L344.8 288.5L345.5 287.5L346.2 288.2L346.9 289.1L347.6 289.7L348.4 289.9L349.1 289.4L349.8 288.0L350.5 287.6L351.2 288.6L352.0 288.9L352.7 289.1L353.4 288.8L354.1 288.6L354.8 288.1L355.6 288.6L356.3 288.7L357.0 288.9L357.7 289.0L358.4 288.8L359.2 288.9L359.9 288.9L360.6 289.2L361.3 289.0L362.1 288.5L362.8 288.7L363.5 289.5L364.2 289.2L364.9 289.3L365.7 289.1L366.4 288.5L367.1 288.4L367.8 288.8L368.5 289.1L369.3 289.0L370.0 288.3L370.7 288.4L371.4 289.0L372.1 289.2L372.9 288.1L373.6 288.7L374.3 288.8L375.0 289.0L375.8 288.8L376.5 289.3L377.2 289.7L377.9 289.4L378.6 289.3L379.4 289.1L380.1 288.8L380.8 289.1" stroke="#1010d2" stroke-width="3.60" fill="none" stroke-linejoin="round"/>
<path d="M92.4 56.0L93.1 60.9L93.8 82.4L94.6 171.6L95.3 180.1L96.0 186.3L96.7 191.6L97.4 196.0L98.2 200.2L98.9 202.8L99.6 206.9L100.3 210.6L101.1 213.8L101.8 217.2L102.5 219.9L103.2 221.8L103.9 223.6L104.7 225.6L105.4 226.8L106.1 227.8L106.8 228.7L107.5 227.8L108.3 231.4L109.0 234.6L109.7 236.4L110.4 237.5L111.1 239.3L111.9 239.0L112.6 239.1L113.3 241.6L114.0 242.0L114.8 243.9L115.5 244.0L116.2 246.8L116.9 246.7L117.6 248.1L118.4 249.6L119.1 250.7L119.8 249.8L120.5 249.1L121.2 251.1L122.0 251.4L122.7 250.9L123.4 250.6L124.1 252.7L124.8 253.8L125.6 255.0L126.3 256.6L127.0 256.8L127.7 257.2L128.4 259.1L129.2 258.6L129.9 259.5L130.6 261.2L131.3 261.7L132.1 262.2L132.8 261.9L133.5 262.8L134.2 263.2L134.9 262.5L135.7 263.7L136.4 262.9L137.1 263.1L137.8 264.2L138.5 264.7L139.3 265.5L140.0 265.4L140.7 265.1L141.4 266.2L142.1 266.8L142.9 266.2L143.6 267.9L144.3 269.2L145.0 268.9L145.8 269.3L146.5 269.2L147.2 268.0L147.9 269.6L148.6 271.0L149.4 270.7L150.1 270.8L150.8 272.2L151.5 270.9L152.2 270.3L153.0 271.5L153.7 271.8L154.4 271.6L155.1 272.9L155.8 273.6L156.6 272.9L157.3 274.1L158.0 274.5L158.7 275.0L159.5 274.5L160.2 273.9L160.9 273.5L161.6 274.3L162.3 275.0L163.1 275.2L163.8 275.5L164.5 275.8L165.2 274.9L165.9 276.2L166.7 277.0L167.4 277.5L168.1 277.8L168.8 278.1L169.5 277.0L170.3 278.1L171.0 278.7L171.7 279.0L172.4 278.1L173.2 277.3L173.9 278.9L174.6 277.8L175.3 278.8L176.0 278.0L176.8 278.6L177.5 280.7L178.2 280.5L178.9 279.6L179.6 280.1L180.4 279.8L181.1 281.3L181.8 282.0L182.5 280.8L183.2 280.9L184.0 281.0L184.7 280.8L185.4 281.4L186.1 281.7L186.9 281.5L187.6 280.9L188.3 281.3L189.0 281.2L189.7 281.1L190.5 283.2L191.2 281.5L191.9 281.0L192.6 280.2L193.3 281.1L194.1 282.8L194.8 282.2L195.5 281.7L196.2 283.3L196.9 284.0L197.7 283.1L198.4 283.4L199.1 281.5L199.8 283.7L200.6 284.9L201.3 284.1L202.0 284.7L202.7 283.6L203.4 283.8L204.2 285.5L204.9 284.5L205.6 284.5L206.3 285.5L207.0 285.4L207.8 284.8L208.5 285.7L209.2 286.2L209.9 286.0L210.6 285.5L211.4 284.8L212.1 284.9L212.8 284.0L213.5 285.0L214.2 287.0L215.0 285.8L215.7 286.8L216.4 286.9L217.1 287.1L217.9 286.2L218.6 282.9L219.3 281.2L220.0 285.4L220.7 285.4L221.5 285.9L222.2 287.2L222.9 287.0L223.6 286.8L224.3 287.6L225.1 288.2L225.8 288.5L226.5 288.2L227.2 289.1L227.9 287.9L228.7 287.9L229.4 288.9L230.1 287.1L230.8 287.3L231.6 288.8L232.3 288.0L233.0 289.1L233.7 288.3L234.4 287.4L235.2 287.4L235.9 288.6L236.6 288.5L237.3 287.1L238.0 287.8L238.8 289.4L239.5 289.9L240.2 289.4L240.9 288.8L241.6 288.0L242.4 289.0L243.1 289.4L243.8 288.9L244.5 289.6L245.3 290.3L246.0 290.7L246.7 289.7L247.4 289.7L248.1 289.5L248.9 288.9L249.6 290.8L250.3 291.3L251.0 289.0L251.7 289.2L252.5 290.2L253.2 289.6L253.9 288.6L254.6 288.9L255.3 291.0L256.1 289.2L256.8 291.2L257.5 290.4L258.2 290.8L259.0 291.5L259.7 291.3L260.4 290.8L261.1 290.8L261.8 288.3L262.6 287.8L263.3 288.5L264.0 289.0L264.7 290.2L265.4 290.3L266.2 289.7L266.9 289.6L267.6 289.6L268.3 291.1L269.0 290.9L269.8 290.2L270.5 289.3L271.2 290.3L271.9 290.8L272.6 291.0L273.4 291.5L274.1 291.5L274.8 291.6L275.5 292.1L276.3 291.1L277.0 289.6L277.7 290.0L278.4 289.9L279.1 290.6L279.9 291.0L280.6 290.5L281.3 289.9L282.0 289.9L282.7 290.3L283.5 289.4L284.2 291.7L284.9 289.9L285.6 290.3L286.3 291.3L287.1 290.9L287.8 290.7L288.5 291.4L289.2 291.1L290.0 290.8L290.7 291.1L291.4 290.8L292.1 291.6L292.8 292.6L293.6 292.4L294.3 291.9L295.0 292.0L295.7 291.7L296.4 291.2L297.2 290.3L297.9 291.3L298.6 292.0L299.3 291.4L300.0 290.1L300.8 290.0L301.5 290.8L302.2 291.2L302.9 290.2L303.7 290.7L304.4 292.1L305.1 290.9L305.8 291.1L306.5 291.9L307.3 290.6L308.0 289.0L308.7 289.4L309.4 291.5L310.1 291.6L310.9 292.0L311.6 291.9L312.3 291.2L313.0 291.8L313.7 291.7L314.5 289.3L315.2 287.6L315.9 289.7L316.6 290.1L317.4 291.4L318.1 290.4L318.8 291.1L319.5 291.9L320.2 290.4L321.0 290.9L321.7 291.8L322.4 292.0L323.1 292.1L323.8 291.8L324.6 292.2L325.3 291.4L326.0 290.4L326.7 291.2L327.4 291.1L328.2 291.9L328.9 290.5L329.6 291.8L330.3 291.1L331.1 292.1L331.8 291.0L332.5 289.9L333.2 290.5L333.9 290.3L334.7 290.7L335.4 290.3L336.1 291.2L336.8 291.0L337.5 290.8L338.3 291.0L339.0 291.7L339.7 291.4L340.4 291.2L341.1 291.5L341.9 289.9L342.6 291.3L343.3 291.1L344.0 291.5L344.8 292.1L345.5 290.5L346.2 291.5L346.9 292.4L347.6 291.3L348.4 292.0L349.1 292.4L349.8 292.0L350.5 290.3L351.2 292.1L352.0 292.0L352.7 290.6L353.4 289.7L354.1 291.2L354.8 290.4L355.6 292.0L356.3 291.3L357.0 291.9L357.7 291.6L358.4 290.6L359.2 290.1L359.9 291.6L360.6 290.3L361.3 291.8L362.1 291.9L362.8 290.1L363.5 291.0L364.2 292.1L364.9 290.7L365.7 291.1L366.4 291.9L367.1 291.9L367.8 291.8L368.5 292.2L369.3 292.1L370.0 292.0L370.7 291.3L371.4 291.6L372.1 291.5L372.9 291.5L373.6 291.3L374.3 291.6L375.0 292.4L375.8 292.1L376.5 292.1L377.2 293.2L377.9 292.4L378.6 292.8L379.4 292.7L380.1 293.0L380.8 292.0L380.8 303.2L380.1 298.8L379.4 298.3L378.6 298.7L377.9 297.0L377.2 299.3L376.5 298.6L375.8 300.2L375.0 304.2L374.3 300.5L373.6 297.9L372.9 296.5L372.1 296.7L371.4 296.3L370.7 296.5L370.0 296.9L369.3 296.6L368.5 297.9L367.8 297.7L367.1 297.4L366.4 296.9L365.7 295.7L364.9 296.4L364.2 296.2L363.5 296.7L362.8 296.5L362.1 297.3L361.3 298.1L360.6 298.2L359.9 296.9L359.2 298.3L358.4 297.7L357.7 297.5L357.0 296.6L356.3 297.2L355.6 296.9L354.8 296.9L354.1 296.3L353.4 296.1L352.7 295.1L352.0 296.4L351.2 297.4L350.5 296.1L349.8 297.8L349.1 297.6L348.4 297.5L347.6 297.6L346.9 296.6L346.2 296.7L345.5 296.0L344.8 297.6L344.0 297.2L343.3 298.1L342.6 296.6L341.9 296.1L341.1 296.8L340.4 297.7L339.7 299.0L339.0 299.0L338.3 299.7L337.5 297.7L336.8 295.5L336.1 296.5L335.4 296.6L334.7 295.8L333.9 296.8L333.2 299.2L332.5 296.7L331.8 296.3L331.1 297.5L330.3 298.4L329.6 298.1L328.9 298.3L328.2 297.2L327.4 296.8L326.7 298.0L326.0 296.9L325.3 297.9L324.6 298.3L323.8 297.9L323.1 297.6L322.4 300.9L321.7 299.5L321.0 297.8L320.2 299.0L319.5 296.6L318.8 295.9L318.1 297.2L317.4 297.1L316.6 295.7L315.9 296.5L315.2 298.1L314.5 297.1L313.7 297.0L313.0 297.7L312.3 297.1L311.6 296.1L310.9 297.2L310.1 297.1L309.4 297.1L308.7 297.6L308.0 297.1L307.3 297.3L306.5 296.9L305.8 297.3L305.1 297.3L304.4 298.0L303.7 297.7L302.9 296.1L302.2 295.9L301.5 297.5L300.8 299.7L300.0 297.1L299.3 296.6L298.6 296.7L297.9 297.1L297.2 295.8L296.4 296.6L295.7 296.6L295.0 297.3L294.3 297.6L293.6 297.1L292.8 297.9L292.1 297.1L291.4 297.3L290.7 297.4L290.0 297.5L289.2 297.5L288.5 296.4L287.8 296.9L287.1 296.5L286.3 296.3L285.6 297.4L284.9 299.9L284.2 299.5L283.5 298.2L282.7 297.2L282.0 295.9L281.3 296.6L280.6 297.6L279.9 297.5L279.1 298.2L278.4 296.2L277.7 296.7L277.0 295.6L276.3 297.8L275.5 296.9L274.8 298.5L274.1 297.4L273.4 298.5L272.6 297.7L271.9 295.6L271.2 295.3L270.5 295.7L269.8 296.5L269.0 297.5L268.3 295.9L267.6 296.8L266.9 294.8L266.2 296.1L265.4 297.1L264.7 296.5L264.0 295.5L263.3 294.6L262.6 296.8L261.8 296.3L261.1 296.1L260.4 296.9L259.7 296.5L259.0 295.8L258.2 296.1L257.5 295.3L256.8 295.8L256.1 296.3L255.3 295.6L254.6 295.5L253.9 295.0L253.2 295.6L252.5 295.4L251.7 294.6L251.0 295.1L250.3 295.6L249.6 295.3L248.9 295.7L248.1 295.8L247.4 295.7L246.7 296.7L246.0 297.0L245.3 294.8L244.5 294.7L243.8 294.4L243.1 294.9L242.4 294.9L241.6 294.3L240.9 294.1L240.2 294.7L239.5 295.2L238.8 293.8L238.0 294.8L237.3 294.8L236.6 295.3L235.9 293.1L235.2 293.2L234.4 294.2L233.7 293.7L233.0 294.5L232.3 293.2L231.6 293.1L230.8 293.7L230.1 293.9L229.4 293.6L228.7 294.4L227.9 293.0L227.2 293.8L226.5 293.8L225.8 294.0L225.1 292.7L224.3 292.6L223.6 292.7L222.9 293.5L222.2 292.1L221.5 291.8L220.7 293.3L220.0 296.2L219.3 293.8L218.6 291.4L217.9 291.7L217.1 291.8L216.4 293.1L215.7 294.1L215.0 292.4L214.2 292.1L213.5 292.1L212.8 292.5L212.1 292.8L211.4 291.6L210.6 290.4L209.9 291.2L209.2 290.8L208.5 290.8L207.8 290.8L207.0 290.2L206.3 290.7L205.6 291.2L204.9 292.0L204.2 293.3L203.4 291.8L202.7 290.0L202.0 290.8L201.3 290.5L200.6 289.9L199.8 291.7L199.1 291.2L198.4 289.2L197.7 288.9L196.9 288.3L196.2 288.0L195.5 287.3L194.8 287.0L194.1 288.1L193.3 288.7L192.6 288.7L191.9 288.2L191.2 287.4L190.5 288.1L189.7 288.2L189.0 287.6L188.3 288.4L187.6 288.8L186.9 287.6L186.1 287.8L185.4 287.3L184.7 285.7L184.0 285.7L183.2 286.6L182.5 287.8L181.8 287.2L181.1 288.9L180.4 290.6L179.6 286.7L178.9 284.8L178.2 284.9L177.5 284.8L176.8 284.4L176.0 284.6L175.3 285.1L174.6 285.5L173.9 284.5L173.2 283.8L172.4 284.6L171.7 286.3L171.0 288.6L170.3 286.0L169.5 283.2L168.8 282.4L168.1 282.8L167.4 281.9L166.7 281.5L165.9 281.7L165.2 282.3L164.5 281.5L163.8 280.2L163.1 279.6L162.3 280.2L161.6 279.9L160.9 280.8L160.2 280.5L159.5 279.4L158.7 280.7L158.0 283.7L157.3 280.6L156.6 278.8L155.8 279.9L155.1 280.2L154.4 282.1L153.7 279.5L153.0 277.5L152.2 276.2L151.5 277.1L150.8 277.2L150.1 277.2L149.4 277.1L148.6 275.7L147.9 276.0L147.2 274.7L146.5 273.9L145.8 274.6L145.0 275.0L144.3 275.1L143.6 273.7L142.9 273.0L142.1 272.4L141.4 271.0L140.7 271.9L140.0 271.0L139.3 273.6L138.5 271.0L137.8 269.5L137.1 268.6L136.4 268.4L135.7 268.6L134.9 268.2L134.2 268.7L133.5 270.9L132.8 269.8L132.1 268.4L131.3 267.0L130.6 266.4L129.9 265.0L129.2 264.2L128.4 265.0L127.7 262.5L127.0 262.0L126.3 261.1L125.6 260.8L124.8 259.0L124.1 259.1L123.4 259.4L122.7 258.8L122.0 257.7L121.2 257.4L120.5 257.3L119.8 255.5L119.1 256.9L118.4 254.5L117.6 254.9L116.9 252.8L116.2 251.0L115.5 250.8L114.8 250.2L114.0 251.5L113.3 249.1L112.6 246.9L111.9 245.0L111.1 244.3L110.4 243.4L109.7 242.3L109.0 240.3L108.3 239.8L107.5 237.2L106.8 236.2L106.1 234.0L105.4 235.3L104.7 234.1L103.9 230.5L103.2 229.4L102.5 224.8L101.8 223.4L101.1 218.7L100.3 215.1L99.6 212.1L98.9 209.4L98.2 206.6L97.4 201.2L96.7 195.3L96.0 189.2L95.3 181.9L94.6 172.6L93.8 82.4L93.1 60.9L92.4 56.0Z" fill="#f4605f"/>
<path d="M92.4 56.0L93.1 60.9L93.8 82.4L94.6 172.1L95.3 180.8L96.0 187.4L96.7 193.2L97.4 198.5L98.2 202.6L98.9 206.2L99.6 209.0L100.3 212.7L101.1 215.9L101.8 219.6L102.5 222.2L103.2 224.3L103.9 226.2L104.7 228.4L105.4 230.3L106.1 231.6L106.8 233.1L107.5 234.8L108.3 236.2L109.0 237.6L109.7 239.0L110.4 240.3L111.1 241.8L111.9 242.5L112.6 244.1L113.3 244.9L114.0 245.6L114.8 246.4L115.5 247.7L116.2 248.8L116.9 249.8L117.6 250.4L118.4 251.7L119.1 253.1L119.8 253.3L120.5 253.7L121.2 254.8L122.0 255.3L122.7 256.2L123.4 256.8L124.1 256.8L124.8 256.8L125.6 258.0L126.3 259.1L127.0 259.6L127.7 260.4L128.4 261.2L129.2 261.4L129.9 262.5L130.6 263.4L131.3 263.8L132.1 264.2L132.8 264.9L133.5 265.6L134.2 265.3L134.9 265.5L135.7 265.9L136.4 265.7L137.1 265.7L137.8 266.6L138.5 267.7L139.3 268.0L140.0 267.5L140.7 267.7L141.4 268.8L142.1 269.5L142.9 270.1L143.6 270.9L144.3 271.4L145.0 271.5L145.8 271.6L146.5 271.3L147.2 271.5L147.9 272.5L148.6 273.3L149.4 273.7L150.1 274.0L150.8 274.4L151.5 274.3L152.2 273.6L153.0 274.2L153.7 275.2L154.4 275.4L155.1 275.1L155.8 276.1L156.6 276.0L157.3 276.2L158.0 276.8L158.7 277.1L159.5 276.8L160.2 277.6L160.9 277.7L161.6 277.5L162.3 277.5L163.1 277.2L163.8 278.0L164.5 278.7L165.2 278.7L165.9 279.0L166.7 279.3L167.4 279.8L168.1 280.3L168.8 280.2L169.5 280.2L170.3 281.0L171.0 281.6L171.7 281.1L172.4 281.0L173.2 280.8L173.9 281.9L174.6 282.3L175.3 282.5L176.0 282.0L176.8 281.8L177.5 282.7L178.2 282.8L178.9 282.2L179.6 282.1L180.4 283.0L181.1 283.6L181.8 284.4L182.5 283.5L183.2 283.3L184.0 283.4L184.7 283.1L185.4 283.7L186.1 284.9L186.9 284.5L187.6 284.1L188.3 284.2L189.0 285.1L189.7 285.5L190.5 285.3L191.2 285.2L191.9 285.6L192.6 285.7L193.3 285.6L194.1 285.7L194.8 285.0L195.5 285.2L196.2 285.9L196.9 286.1L197.7 286.1L198.4 286.8L199.1 287.4L199.8 287.3L200.6 287.3L201.3 287.6L202.0 287.4L202.7 286.9L203.4 287.5L204.2 288.0L204.9 287.4L205.6 287.7L206.3 287.7L207.0 287.5L207.8 287.6L208.5 288.2L209.2 288.6L209.9 288.5L210.6 288.0L211.4 288.4L212.1 289.1L212.8 289.5L213.5 289.6L214.2 289.8L215.0 290.0L215.7 289.7L216.4 289.2L217.1 289.3L217.9 288.9L218.6 288.2L219.3 288.9L220.0 290.4L220.7 289.4L221.5 288.7L222.2 289.7L222.9 290.8L223.6 290.5L224.3 290.5L225.1 290.3L225.8 290.6L226.5 291.2L227.2 291.2L227.9 290.9L228.7 291.3L229.4 291.4L230.1 291.0L230.8 291.1L231.6 291.1L232.3 291.0L233.0 291.6L233.7 291.3L234.4 290.8L235.2 290.3L235.9 290.9L236.6 291.8L237.3 291.4L238.0 291.6L238.8 291.7L239.5 292.0L240.2 292.0L240.9 291.6L241.6 291.7L242.4 292.0L243.1 292.1L243.8 292.0L244.5 292.1L245.3 292.6L246.0 293.0L246.7 292.6L247.4 292.1L248.1 292.4L248.9 292.6L249.6 292.9L250.3 293.4L251.0 292.7L251.7 292.4L252.5 292.2L253.2 292.3L253.9 292.6L254.6 293.4L255.3 293.1L256.1 292.9L256.8 293.4L257.5 292.7L258.2 293.3L259.0 293.6L259.7 293.4L260.4 293.0L261.1 292.9L261.8 293.0L262.6 293.1L263.3 292.1L264.0 292.6L264.7 293.1L265.4 292.7L266.2 292.3L266.9 292.8L267.6 293.1L268.3 293.8L269.0 294.1L269.8 293.3L270.5 292.5L271.2 292.9L271.9 293.1L272.6 293.9L273.4 294.4L274.1 294.2L274.8 294.7L275.5 294.7L276.3 294.0L277.0 293.4L277.7 293.4L278.4 293.2L279.1 294.0L279.9 294.2L280.6 294.5L281.3 293.9L282.0 293.1L282.7 294.0L283.5 294.6L284.2 294.6L284.9 293.6L285.6 293.4L286.3 293.7L287.1 293.3L287.8 293.0L288.5 293.6L289.2 294.9L290.0 293.9L290.7 293.4L291.4 293.6L292.1 294.1L292.8 294.7L293.6 294.7L294.3 294.5L295.0 294.2L295.7 294.0L296.4 293.5L297.2 293.6L297.9 294.7L298.6 294.3L299.3 294.4L300.0 294.1L300.8 294.0L301.5 293.8L302.2 293.4L302.9 293.9L303.7 294.4L304.4 294.6L305.1 294.6L305.8 294.7L306.5 294.4L307.3 293.8L308.0 293.1L308.7 293.8L309.4 294.7L310.1 294.5L310.9 294.5L311.6 294.0L312.3 294.1L313.0 295.0L313.7 294.8L314.5 294.9L315.2 294.5L315.9 293.7L316.6 293.1L317.4 293.6L318.1 293.1L318.8 293.1L319.5 294.5L320.2 294.7L321.0 294.5L321.7 294.2L322.4 294.2L323.1 294.3L323.8 294.3L324.6 294.3L325.3 294.1L326.0 293.3L326.7 294.1L327.4 294.1L328.2 294.6L328.9 294.7L329.6 294.1L330.3 294.5L331.1 294.5L331.8 293.8L332.5 293.8L333.2 293.8L333.9 293.1L334.7 293.6L335.4 294.1L336.1 293.7L336.8 293.3L337.5 293.9L338.3 294.9L339.0 294.9L339.7 294.1L340.4 293.7L341.1 294.0L341.9 294.0L342.6 293.8L343.3 294.0L344.0 294.5L344.8 294.3L345.5 293.3L346.2 294.2L346.9 294.5L347.6 294.7L348.4 294.4L349.1 294.6L349.8 294.5L350.5 293.3L351.2 294.5L352.0 294.2L352.7 293.0L353.4 292.8L354.1 293.8L354.8 293.9L355.6 294.6L356.3 294.5L357.0 294.4L357.7 294.7L358.4 294.6L359.2 294.8L359.9 294.8L360.6 294.7L361.3 294.8L362.1 294.6L362.8 293.8L363.5 294.0L364.2 294.2L364.9 293.9L365.7 293.5L366.4 293.9L367.1 294.5L367.8 294.8L368.5 295.1L369.3 294.3L370.0 294.1L370.7 294.1L371.4 294.2L372.1 293.9L372.9 293.6L373.6 294.6L374.3 295.2L375.0 295.1L375.8 294.3L376.5 294.7L377.2 295.4L377.9 295.0L378.6 294.8L379.4 294.9L380.1 295.3L380.8 295.7" stroke="#f4605f" stroke-width="3.40" fill="none" stroke-linejoin="round"/>
<path d="M550.8 56.5L551.5 89.4L552.2 161.6L553.0 173.9L553.7 182.3L554.4 188.9L555.1 194.3L555.8 198.7L556.6 202.3L557.3 206.7L558.0 211.7L558.7 215.1L559.5 217.9L560.2 220.2L560.9 221.7L561.6 224.2L562.3 225.2L563.1 229.2L563.8 231.2L564.5 233.3L565.2 235.1L565.9 237.3L566.7 238.5L567.4 240.7L568.1 242.1L568.8 242.2L569.5 241.3L570.3 244.4L571.0 247.9L571.7 248.9L572.4 250.1L573.2 251.1L573.9 251.5L574.6 253.4L575.3 254.9L576.0 255.4L576.8 255.4L577.5 257.4L578.2 259.5L578.9 260.2L579.6 260.8L580.4 261.8L581.1 262.6L581.8 263.9L582.5 263.9L583.2 265.0L584.0 266.2L584.7 267.0L585.4 267.6L586.1 269.3L586.8 269.2L587.6 269.0L588.3 268.9L589.0 272.3L589.7 272.6L590.5 273.0L591.2 273.3L591.9 274.2L592.6 275.0L593.3 275.8L594.1 276.3L594.8 277.2L595.5 277.8L596.2 278.0L596.9 277.5L597.7 279.3L598.4 280.6L599.1 281.6L599.8 282.2L600.5 282.4L601.3 281.4L602.0 283.5L602.7 284.4L603.4 284.8L604.2 285.9L604.9 285.8L605.6 285.2L606.3 286.1L607.0 286.5L607.8 288.1L608.5 288.5L609.2 289.3L609.9 290.6L610.6 290.4L611.4 290.8L612.1 291.6L612.8 291.9L613.5 292.8L614.2 292.5L615.0 293.5L615.7 293.7L616.4 293.2L617.1 292.8L617.9 294.8L618.6 294.8L619.3 294.0L620.0 296.3L620.7 296.7L621.5 297.1L622.2 297.2L622.9 297.5L623.6 299.1L624.3 298.9L625.1 299.2L625.8 298.9L626.5 300.0L627.2 298.9L627.9 300.9L628.7 302.1L629.4 302.5L630.1 302.2L630.8 303.7L631.6 304.7L632.3 304.9L633.0 304.7L633.7 305.6L634.4 305.8L635.2 306.8L635.9 307.1L636.6 308.1L637.3 307.4L638.0 308.2L638.8 308.3L639.5 306.7L640.2 307.5L640.9 307.5L641.6 307.4L642.4 309.9L643.1 311.2L643.8 313.0L644.5 313.1L645.3 312.5L646.0 310.8L646.7 312.2L647.4 313.1L648.1 312.5L648.9 312.8L649.6 314.4L650.3 313.0L651.0 315.1L651.7 316.4L652.5 316.4L653.2 317.3L653.9 317.2L654.6 315.6L655.3 317.8L656.1 318.3L656.8 319.3L657.5 318.4L658.2 318.9L658.9 319.8L659.7 319.8L660.4 321.2L661.1 321.3L661.8 321.3L662.6 320.2L663.3 321.8L664.0 321.4L664.7 319.8L665.4 322.2L666.2 325.2L666.9 324.6L667.6 323.1L668.3 323.0L669.0 325.7L669.8 326.3L670.5 326.4L671.2 326.2L671.9 326.6L672.6 327.9L673.4 329.0L674.1 329.0L674.8 328.5L675.5 328.8L676.3 329.6L677.0 329.7L677.7 330.0L678.4 329.4L679.1 328.6L679.9 328.8L680.6 331.1L681.3 331.3L682.0 331.6L682.7 332.5L683.5 333.3L684.2 333.3L684.9 333.4L685.6 334.2L686.3 334.3L687.1 335.3L687.8 334.2L688.5 336.2L689.2 335.9L690.0 335.8L690.7 335.6L691.4 334.9L692.1 334.1L692.8 330.5L693.6 335.4L694.3 338.1L695.0 339.2L695.7 338.8L696.4 337.3L697.2 339.0L697.9 338.7L698.6 340.1L699.3 340.9L700.0 339.9L700.8 339.3L701.5 338.8L702.2 340.4L702.9 341.7L703.7 342.2L704.4 342.8L705.1 343.0L705.8 342.4L706.5 343.0L707.3 342.7L708.0 343.5L708.7 344.6L709.4 344.4L710.1 344.0L710.9 344.8L711.6 345.4L712.3 346.2L713.0 346.4L713.7 345.7L714.5 345.6L715.2 347.1L715.9 347.0L716.6 346.4L717.4 346.8L718.1 347.7L718.8 347.9L719.5 348.5L720.2 348.6L721.0 348.7L721.7 348.2L722.4 348.3L723.1 348.3L723.8 349.6L724.6 350.2L725.3 350.4L726.0 350.4L726.7 350.9L727.4 350.5L728.2 350.3L728.9 351.1L729.6 351.2L730.3 351.4L731.0 352.5L731.8 351.7L732.5 352.0L733.2 350.9L733.9 348.8L734.7 346.4L735.4 350.3L736.1 352.9L736.8 352.2L737.5 353.3L738.3 353.5L739.0 353.4L739.7 354.5L740.4 353.9L741.1 354.1L741.9 355.3L742.6 355.6L743.3 354.1L744.0 353.2L744.7 355.2L745.5 355.9L746.2 357.5L746.9 358.0L747.6 357.6L748.4 356.6L749.1 356.3L749.8 356.8L750.5 357.2L751.2 356.4L752.0 357.9L752.7 358.0L753.4 358.5L754.1 359.2L754.8 359.3L755.6 360.6L756.3 359.6L757.0 360.3L757.7 359.7L758.4 359.6L759.2 359.9L759.9 360.6L760.6 360.2L761.3 360.9L762.1 360.9L762.8 361.5L763.5 361.1L764.2 360.5L764.9 360.3L765.7 361.4L766.4 361.4L767.1 361.9L767.8 362.3L768.5 360.8L769.3 361.9L770.0 362.9L770.7 362.5L771.4 361.1L772.1 363.0L772.9 361.1L773.6 362.8L774.3 363.8L775.0 364.3L775.8 365.1L776.5 364.5L777.2 365.1L777.9 364.5L778.6 364.4L779.4 364.1L780.1 363.7L780.8 364.4L781.5 366.6L782.2 366.7L783.0 365.8L783.7 366.2L784.4 366.5L785.1 366.7L785.8 366.5L786.6 366.4L787.3 366.7L788.0 365.4L788.7 364.2L789.5 366.7L790.2 367.8L790.9 367.3L791.6 367.1L792.3 366.9L793.1 367.1L793.8 368.3L794.5 366.5L795.2 367.7L795.9 368.2L796.7 367.7L797.4 368.8L798.1 367.5L798.8 367.5L799.5 365.7L800.3 367.9L801.0 369.3L801.7 369.0L802.4 367.4L803.1 368.9L803.9 370.1L804.6 370.5L805.3 370.2L806.0 369.1L806.8 368.8L807.5 370.7L808.2 370.8L808.9 371.1L809.6 372.1L810.4 372.4L811.1 371.0L811.8 369.5L812.5 370.4L813.2 369.3L814.0 370.8L814.7 371.9L815.4 372.8L816.1 372.7L816.8 372.8L817.6 373.5L818.3 373.2L819.0 372.3L819.7 372.4L820.5 371.5L821.2 370.8L821.9 372.5L822.6 373.0L823.3 373.0L824.1 374.1L824.8 374.1L825.5 374.3L826.2 374.5L826.9 374.4L827.7 373.9L828.4 370.7L829.1 372.5L829.8 373.9L830.5 372.9L831.3 373.8L832.0 375.2L832.7 375.6L833.4 375.7L834.2 375.4L834.9 375.1L835.6 374.7L836.3 375.2L837.0 375.3L837.8 374.1L838.5 374.4L839.2 375.2L839.2 380.2L838.5 379.4L837.8 379.2L837.0 379.2L836.3 379.0L835.6 379.0L834.9 379.7L834.2 379.4L833.4 380.2L832.7 380.2L832.0 383.2L831.3 381.4L830.5 379.2L829.8 377.8L829.1 379.1L828.4 378.6L827.7 378.9L826.9 378.7L826.2 377.8L825.5 378.1L824.8 377.4L824.1 377.5L823.3 376.8L822.6 377.3L821.9 377.6L821.2 378.0L820.5 377.5L819.7 378.0L819.0 377.3L818.3 376.4L817.6 376.2L816.8 376.1L816.1 376.9L815.4 377.2L814.7 377.1L814.0 376.9L813.2 375.4L812.5 375.6L811.8 375.8L811.1 375.7L810.4 376.7L809.6 377.2L808.9 375.1L808.2 374.2L807.5 374.3L806.8 374.4L806.0 374.1L805.3 374.5L804.6 373.3L803.9 373.3L803.1 372.9L802.4 372.5L801.7 373.6L801.0 372.9L800.3 373.3L799.5 374.0L798.8 373.4L798.1 372.3L797.4 372.6L796.7 372.9L795.9 372.6L795.2 374.2L794.5 373.0L793.8 372.6L793.1 372.9L792.3 372.0L791.6 371.0L790.9 371.2L790.2 371.4L789.5 371.0L788.7 369.7L788.0 369.6L787.3 370.3L786.6 369.9L785.8 369.8L785.1 370.5L784.4 370.5L783.7 369.8L783.0 371.1L782.2 372.1L781.5 372.3L780.8 370.9L780.1 369.4L779.4 368.4L778.6 369.4L777.9 369.1L777.2 368.8L776.5 368.7L775.8 368.4L775.0 368.1L774.3 368.2L773.6 368.5L772.9 368.2L772.1 369.0L771.4 367.2L770.7 367.8L770.0 368.6L769.3 370.6L768.5 367.6L767.8 367.2L767.1 367.5L766.4 367.4L765.7 365.3L764.9 365.8L764.2 365.4L763.5 365.2L762.8 365.9L762.1 365.7L761.3 365.1L760.6 365.2L759.9 364.5L759.2 363.9L758.4 363.2L757.7 363.1L757.0 363.4L756.3 363.8L755.6 364.4L754.8 364.8L754.1 365.9L753.4 366.6L752.7 365.5L752.0 364.6L751.2 363.7L750.5 362.7L749.8 360.8L749.1 361.1L748.4 360.6L747.6 360.8L746.9 361.4L746.2 360.6L745.5 359.7L744.7 360.1L744.0 360.4L743.3 359.7L742.6 359.8L741.9 359.6L741.1 359.0L740.4 358.8L739.7 358.6L739.0 358.2L738.3 358.4L737.5 358.0L736.8 358.1L736.1 358.0L735.4 359.1L734.7 357.9L733.9 357.7L733.2 356.8L732.5 356.7L731.8 357.5L731.0 357.0L730.3 355.7L729.6 355.2L728.9 356.4L728.2 354.6L727.4 354.7L726.7 355.5L726.0 354.6L725.3 354.6L724.6 353.6L723.8 355.1L723.1 356.0L722.4 353.7L721.7 353.8L721.0 352.5L720.2 352.4L719.5 352.3L718.8 352.0L718.1 351.3L717.4 351.3L716.6 351.4L715.9 350.4L715.2 350.5L714.5 351.2L713.7 350.9L713.0 350.7L712.3 349.6L711.6 350.7L710.9 352.6L710.1 350.0L709.4 347.8L708.7 348.1L708.0 347.8L707.3 347.1L706.5 347.1L705.8 347.0L705.1 346.2L704.4 346.0L703.7 345.7L702.9 345.9L702.2 345.3L701.5 344.3L700.8 344.6L700.0 344.9L699.3 344.7L698.6 345.0L697.9 343.5L697.2 342.8L696.4 343.0L695.7 343.2L695.0 343.3L694.3 343.6L693.6 342.4L692.8 341.5L692.1 340.6L691.4 339.7L690.7 341.4L690.0 340.1L689.2 339.5L688.5 339.9L687.8 339.8L687.1 339.8L686.3 338.4L685.6 337.9L684.9 337.1L684.2 337.7L683.5 338.6L682.7 338.3L682.0 336.6L681.3 338.0L680.6 337.0L679.9 335.3L679.1 334.9L678.4 335.1L677.7 335.1L677.0 334.8L676.3 333.5L675.5 334.1L674.8 334.1L674.1 333.0L673.4 332.1L672.6 333.0L671.9 332.3L671.2 331.8L670.5 330.6L669.8 330.0L669.0 330.1L668.3 329.2L667.6 328.9L666.9 328.6L666.2 329.3L665.4 328.2L664.7 327.8L664.0 326.9L663.3 326.7L662.6 326.8L661.8 326.3L661.1 325.6L660.4 325.3L659.7 324.2L658.9 324.2L658.2 323.4L657.5 323.5L656.8 323.1L656.1 322.5L655.3 322.8L654.6 323.5L653.9 325.2L653.2 322.5L652.5 321.0L651.7 320.0L651.0 319.4L650.3 318.9L649.6 319.0L648.9 319.4L648.1 318.9L647.4 317.0L646.7 316.8L646.0 316.3L645.3 316.4L644.5 317.7L643.8 317.3L643.1 315.5L642.4 314.4L641.6 314.0L640.9 313.7L640.2 312.8L639.5 313.4L638.8 312.8L638.0 311.7L637.3 311.2L636.6 312.5L635.9 313.6L635.2 311.9L634.4 310.7L633.7 309.2L633.0 310.5L632.3 309.8L631.6 308.3L630.8 309.2L630.1 309.8L629.4 312.1L628.7 308.5L627.9 306.9L627.2 306.4L626.5 306.8L625.8 304.8L625.1 303.5L624.3 303.8L623.6 304.2L622.9 302.6L622.2 301.0L621.5 301.0L620.7 300.5L620.0 301.4L619.3 300.9L618.6 300.2L617.9 299.7L617.1 298.2L616.4 298.5L615.7 298.9L615.0 298.4L614.2 298.2L613.5 299.0L612.8 296.8L612.1 295.7L611.4 294.3L610.6 294.4L609.9 294.6L609.2 292.7L608.5 291.6L607.8 292.1L607.0 291.8L606.3 289.9L605.6 290.0L604.9 290.6L604.2 290.3L603.4 290.3L602.7 290.9L602.0 288.1L601.3 288.4L600.5 288.5L599.8 286.6L599.1 286.2L598.4 284.6L597.7 283.4L596.9 282.8L596.2 282.1L595.5 281.9L594.8 281.6L594.1 280.1L593.3 280.2L592.6 280.6L591.9 278.9L591.2 278.7L590.5 277.8L589.7 276.4L589.0 275.1L588.3 274.8L587.6 274.0L586.8 272.8L586.1 272.3L585.4 271.9L584.7 271.7L584.0 270.9L583.2 269.8L582.5 269.4L581.8 267.7L581.1 266.6L580.4 266.0L579.6 265.5L578.9 265.5L578.2 263.7L577.5 261.9L576.8 261.5L576.0 260.0L575.3 259.3L574.6 259.0L573.9 258.6L573.2 256.0L572.4 253.7L571.7 252.6L571.0 251.9L570.3 252.0L569.5 249.8L568.8 247.0L568.1 247.1L567.4 247.0L566.7 244.2L565.9 240.6L565.2 238.6L564.5 236.9L563.8 234.6L563.1 233.0L562.3 230.8L561.6 229.0L560.9 227.6L560.2 225.6L559.5 223.5L558.7 220.6L558.0 216.6L557.3 213.0L556.6 208.6L555.8 202.7L555.1 197.8L554.4 191.8L553.7 184.4L553.0 174.8L552.2 161.6L551.5 89.4L550.8 56.5Z" fill="#9a9a9a"/>
<path d="M550.8 56.5L551.5 89.4L552.2 161.6L553.0 174.3L553.7 183.3L554.4 190.3L555.1 196.0L555.8 201.1L556.6 205.7L557.3 209.4L558.0 213.2L558.7 217.0L559.5 219.9L560.2 222.5L560.9 224.9L561.6 226.9L562.3 228.8L563.1 231.5L563.8 233.1L564.5 235.3L565.2 237.2L565.9 239.0L566.7 240.7L567.4 242.2L568.1 243.9L568.8 244.9L569.5 246.5L570.3 247.6L571.0 249.5L571.7 250.6L572.4 252.1L573.2 253.4L573.9 253.6L574.6 255.1L575.3 256.8L576.0 258.2L576.8 259.3L577.5 260.2L578.2 261.0L578.9 261.9L579.6 262.8L580.4 263.8L581.1 265.0L581.8 265.7L582.5 266.8L583.2 268.1L584.0 268.7L584.7 269.0L585.4 269.8L586.1 270.8L586.8 271.0L587.6 271.3L588.3 272.4L589.0 273.7L589.7 274.4L590.5 275.1L591.2 276.0L591.9 276.6L592.6 278.0L593.3 278.2L594.1 278.8L594.8 279.9L595.5 279.7L596.2 280.3L596.9 281.0L597.7 281.4L598.4 282.3L599.1 283.3L599.8 283.8L600.5 284.4L601.3 285.4L602.0 286.4L602.7 286.6L603.4 286.2L604.2 287.5L604.9 288.2L605.6 288.4L606.3 288.5L607.0 289.1L607.8 289.6L608.5 290.1L609.2 291.4L609.9 292.0L610.6 292.0L611.4 292.4L612.1 293.5L612.8 294.1L613.5 294.5L614.2 294.9L615.0 295.9L615.7 296.1L616.4 296.5L617.1 296.1L617.9 297.0L618.6 297.3L619.3 297.1L620.0 297.9L620.7 298.4L621.5 298.8L622.2 299.4L622.9 300.0L623.6 301.0L624.3 301.7L625.1 302.0L625.8 302.1L626.5 302.8L627.2 303.9L627.9 303.9L628.7 304.2L629.4 304.6L630.1 305.4L630.8 306.2L631.6 306.6L632.3 306.9L633.0 307.3L633.7 307.6L634.4 308.1L635.2 308.2L635.9 308.9L636.6 309.5L637.3 309.6L638.0 310.4L638.8 310.7L639.5 310.5L640.2 310.6L640.9 311.1L641.6 311.9L642.4 312.9L643.1 313.6L643.8 314.5L644.5 315.1L645.3 314.4L646.0 314.0L646.7 314.4L647.4 314.9L648.1 315.7L648.9 316.6L649.6 317.3L650.3 317.1L651.0 317.6L651.7 318.2L652.5 318.6L653.2 319.2L653.9 320.3L654.6 320.2L655.3 320.5L656.1 321.1L656.8 321.6L657.5 322.1L658.2 321.7L658.9 322.1L659.7 322.6L660.4 323.2L661.1 323.8L661.8 323.6L662.6 323.6L663.3 324.4L664.0 324.8L664.7 325.6L665.4 326.3L666.2 327.1L666.9 327.0L667.6 326.8L668.3 327.6L669.0 328.2L669.8 328.3L670.5 328.5L671.2 328.7L671.9 329.0L672.6 329.4L673.4 330.4L674.1 330.5L674.8 330.4L675.5 331.3L676.3 331.6L677.0 331.9L677.7 332.4L678.4 332.7L679.1 332.2L679.9 333.0L680.6 333.7L681.3 333.7L682.0 333.5L682.7 333.9L683.5 335.0L684.2 335.6L684.9 335.0L685.6 335.5L686.3 336.3L687.1 336.8L687.8 337.3L688.5 337.9L689.2 337.8L690.0 337.5L690.7 337.8L691.4 338.1L692.1 339.0L692.8 339.9L693.6 340.4L694.3 341.0L695.0 341.1L695.7 341.2L696.4 341.2L697.2 341.0L697.9 341.4L698.6 342.0L699.3 342.5L700.0 342.6L700.8 342.3L701.5 342.3L702.2 343.0L702.9 344.1L703.7 344.2L704.4 344.5L705.1 344.5L705.8 344.7L706.5 344.9L707.3 345.2L708.0 345.7L708.7 346.1L709.4 345.8L710.1 346.3L710.9 346.6L711.6 346.9L712.3 347.7L713.0 348.1L713.7 347.6L714.5 348.2L715.2 348.9L715.9 348.9L716.6 348.5L717.4 349.2L718.1 349.4L718.8 349.6L719.5 350.1L720.2 350.0L721.0 350.6L721.7 351.1L722.4 350.8L723.1 351.1L723.8 352.1L724.6 351.9L725.3 352.3L726.0 352.3L726.7 352.5L727.4 352.7L728.2 353.1L728.9 353.2L729.6 353.1L730.3 353.7L731.0 354.2L731.8 353.8L732.5 353.6L733.2 354.5L733.9 354.7L734.7 355.2L735.4 355.2L736.1 355.3L736.8 355.7L737.5 356.2L738.3 356.3L739.0 355.9L739.7 355.9L740.4 356.5L741.1 357.5L741.9 357.5L742.6 357.3L743.3 357.8L744.0 358.3L744.7 357.9L745.5 358.3L746.2 359.0L746.9 359.3L747.6 359.3L748.4 359.0L749.1 359.1L749.8 358.8L750.5 359.4L751.2 359.8L752.0 360.1L752.7 360.8L753.4 360.7L754.1 360.9L754.8 361.5L755.6 361.9L756.3 361.5L757.0 361.8L757.7 361.6L758.4 361.4L759.2 361.9L759.9 362.4L760.6 362.5L761.3 362.6L762.1 362.9L762.8 363.0L763.5 363.1L764.2 363.2L764.9 363.5L765.7 363.1L766.4 363.7L767.1 364.0L767.8 364.4L768.5 364.0L769.3 363.8L770.0 364.9L770.7 365.3L771.4 364.8L772.1 365.4L772.9 365.6L773.6 365.5L774.3 365.9L775.0 366.0L775.8 366.7L776.5 366.9L777.2 366.5L777.9 366.6L778.6 366.7L779.4 366.3L780.1 366.7L780.8 367.6L781.5 368.5L782.2 368.4L783.0 368.0L783.7 367.8L784.4 368.2L785.1 368.2L785.8 367.9L786.6 368.2L787.3 368.2L788.0 368.2L788.7 368.0L789.5 369.3L790.2 369.2L790.9 369.0L791.6 369.1L792.3 369.1L793.1 369.8L793.8 370.6L794.5 370.4L795.2 370.2L795.9 370.4L796.7 370.6L797.4 370.6L798.1 370.7L798.8 371.0L799.5 371.2L800.3 371.2L801.0 371.4L801.7 371.0L802.4 370.7L803.1 371.0L803.9 371.8L804.6 371.9L805.3 372.1L806.0 372.1L806.8 372.3L807.5 372.5L808.2 372.2L808.9 372.7L809.6 373.7L810.4 374.1L811.1 373.6L811.8 373.5L812.5 373.3L813.2 373.3L814.0 374.1L814.7 374.5L815.4 374.5L816.1 374.4L816.8 374.3L817.6 374.8L818.3 374.8L819.0 374.7L819.7 375.1L820.5 374.7L821.2 374.6L821.9 375.0L822.6 374.9L823.3 375.0L824.1 375.7L824.8 375.8L825.5 375.7L826.2 376.1L826.9 376.3L827.7 376.6L828.4 376.8L829.1 376.7L829.8 376.3L830.5 376.8L831.3 376.9L832.0 377.1L832.7 377.2L833.4 377.4L834.2 377.2L834.9 377.2L835.6 377.5L836.3 377.4L837.0 377.2L837.8 377.5L838.5 377.7L839.2 377.8" stroke="#9a9a9a" stroke-width="2.50" fill="none" stroke-linejoin="round"/>
<path d="M550.8 56.0L551.5 75.6L552.2 160.3L553.0 168.9L553.7 175.0L554.4 180.2L555.1 185.1L555.8 188.9L556.6 193.6L557.3 196.5L558.0 199.4L558.7 202.5L559.5 205.9L560.2 208.2L560.9 210.5L561.6 212.8L562.3 214.7L563.1 216.7L563.8 218.4L564.5 221.8L565.2 221.3L565.9 224.7L566.7 227.9L567.4 229.0L568.1 231.3L568.8 231.9L569.5 233.3L570.3 235.9L571.0 237.2L571.7 236.8L572.4 239.1L573.2 241.9L573.9 242.8L574.6 243.9L575.3 246.4L576.0 247.4L576.8 249.0L577.5 251.0L578.2 252.2L578.9 252.4L579.6 253.8L580.4 254.0L581.1 256.2L581.8 256.7L582.5 257.0L583.2 259.6L584.0 259.5L584.7 261.5L585.4 261.0L586.1 262.8L586.8 264.0L587.6 264.7L588.3 264.4L589.0 264.0L589.7 265.5L590.5 264.1L591.2 267.3L591.9 269.2L592.6 268.6L593.3 267.9L594.1 270.3L594.8 271.2L595.5 271.9L596.2 272.8L596.9 272.9L597.7 273.4L598.4 272.5L599.1 274.6L599.8 276.5L600.5 277.0L601.3 276.2L602.0 276.7L602.7 278.3L603.4 279.5L604.2 279.8L604.9 279.2L605.6 280.7L606.3 280.8L607.0 281.8L607.8 281.7L608.5 281.2L609.2 281.4L609.9 283.3L610.6 283.3L611.4 283.3L612.1 285.0L612.8 285.5L613.5 286.0L614.2 286.4L615.0 285.8L615.7 285.0L616.4 286.2L617.1 286.5L617.9 287.6L618.6 288.9L619.3 288.0L620.0 288.9L620.7 290.0L621.5 290.9L622.2 290.4L622.9 289.9L623.6 290.6L624.3 292.0L625.1 293.3L625.8 292.4L626.5 292.7L627.2 291.6L627.9 291.8L628.7 290.4L629.4 292.1L630.1 294.7L630.8 296.1L631.6 295.8L632.3 296.1L633.0 296.6L633.7 297.1L634.4 297.8L635.2 296.8L635.9 297.4L636.6 298.7L637.3 298.8L638.0 300.0L638.8 300.1L639.5 299.9L640.2 301.0L640.9 301.2L641.6 301.4L642.4 301.0L643.1 301.8L643.8 301.5L644.5 302.3L645.3 302.8L646.0 303.0L646.7 303.3L647.4 304.0L648.1 304.5L648.9 304.4L649.6 305.4L650.3 305.5L651.0 305.8L651.7 306.6L652.5 306.8L653.2 305.3L653.9 305.5L654.6 306.3L655.3 306.3L656.1 307.9L656.8 307.8L657.5 306.2L658.2 307.4L658.9 308.2L659.7 309.4L660.4 310.0L661.1 310.9L661.8 311.1L662.6 310.7L663.3 309.1L664.0 309.7L664.7 309.4L665.4 310.9L666.2 312.0L666.9 311.3L667.6 311.2L668.3 312.6L669.0 310.8L669.8 312.4L670.5 314.2L671.2 313.5L671.9 314.8L672.6 315.2L673.4 315.7L674.1 313.5L674.8 314.9L675.5 315.7L676.3 316.2L677.0 316.2L677.7 314.7L678.4 314.4L679.1 316.3L679.9 317.6L680.6 318.4L681.3 317.9L682.0 317.8L682.7 317.7L683.5 316.2L684.2 317.5L684.9 318.6L685.6 319.9L686.3 319.5L687.1 319.8L687.8 318.4L688.5 320.7L689.2 318.9L690.0 315.4L690.7 319.1L691.4 320.9L692.1 321.5L692.8 322.4L693.6 322.1L694.3 322.7L695.0 322.5L695.7 321.4L696.4 321.0L697.2 322.5L697.9 322.5L698.6 321.7L699.3 323.3L700.0 323.6L700.8 322.8L701.5 324.7L702.2 325.8L702.9 325.7L703.7 325.2L704.4 324.3L705.1 325.6L705.8 327.4L706.5 326.1L707.3 326.1L708.0 326.6L708.7 326.9L709.4 326.5L710.1 327.1L710.9 327.4L711.6 328.1L712.3 326.6L713.0 327.5L713.7 328.3L714.5 329.3L715.2 329.2L715.9 330.0L716.6 329.2L717.4 329.8L718.1 330.2L718.8 330.9L719.5 330.1L720.2 330.7L721.0 330.8L721.7 330.7L722.4 330.9L723.1 330.7L723.8 330.5L724.6 331.8L725.3 331.8L726.0 332.5L726.7 331.5L727.4 332.6L728.2 332.7L728.9 333.1L729.6 332.2L730.3 333.1L731.0 332.7L731.8 334.2L732.5 334.3L733.2 333.3L733.9 334.6L734.7 334.1L735.4 332.0L736.1 333.6L736.8 334.6L737.5 334.3L738.3 331.7L739.0 333.7L739.7 335.0L740.4 333.8L741.1 334.5L741.9 334.6L742.6 333.1L743.3 335.1L744.0 335.5L744.7 336.2L745.5 335.5L746.2 336.3L746.9 337.5L747.6 337.9L748.4 336.9L749.1 335.7L749.8 333.8L750.5 335.3L751.2 337.5L752.0 338.9L752.7 337.1L753.4 336.4L754.1 337.6L754.8 338.2L755.6 337.1L756.3 337.9L757.0 338.3L757.7 338.4L758.4 339.3L759.2 339.4L759.9 340.2L760.6 340.2L761.3 340.4L762.1 339.7L762.8 337.8L763.5 340.1L764.2 341.3L764.9 340.8L765.7 339.6L766.4 339.8L767.1 339.6L767.8 339.8L768.5 340.3L769.3 341.2L770.0 341.7L770.7 341.1L771.4 342.1L772.1 341.8L772.9 341.7L773.6 341.4L774.3 341.0L775.0 340.4L775.8 340.0L776.5 340.6L777.2 342.6L777.9 342.2L778.6 342.7L779.4 342.7L780.1 340.8L780.8 339.9L781.5 341.9L782.2 342.6L783.0 342.9L783.7 343.2L784.4 342.5L785.1 343.0L785.8 344.2L786.6 344.7L787.3 344.2L788.0 344.3L788.7 344.5L789.5 343.6L790.2 343.3L790.9 344.2L791.6 344.4L792.3 344.7L793.1 344.6L793.8 343.7L794.5 343.6L795.2 346.3L795.9 345.3L796.7 345.5L797.4 346.4L798.1 345.7L798.8 346.0L799.5 345.1L800.3 345.6L801.0 345.3L801.7 346.3L802.4 346.1L803.1 345.1L803.9 345.7L804.6 346.2L805.3 346.6L806.0 346.9L806.8 344.7L807.5 346.2L808.2 347.3L808.9 346.5L809.6 344.6L810.4 346.5L811.1 346.2L811.8 345.5L812.5 346.7L813.2 347.9L814.0 347.8L814.7 348.7L815.4 348.3L816.1 348.3L816.8 349.1L817.6 348.3L818.3 347.4L819.0 347.3L819.7 347.9L820.5 346.2L821.2 347.4L821.9 348.3L822.6 347.5L823.3 345.9L824.1 346.3L824.8 348.1L825.5 348.9L826.2 348.8L826.9 349.7L827.7 349.5L828.4 350.1L829.1 348.4L829.8 346.8L830.5 348.5L831.3 348.1L832.0 348.6L832.7 348.8L833.4 348.8L834.2 348.1L834.9 347.6L835.6 350.0L836.3 350.6L837.0 350.1L837.8 350.1L838.5 350.9L839.2 350.9L839.2 354.2L838.5 354.4L837.8 353.9L837.0 353.6L836.3 355.2L835.6 353.1L834.9 353.7L834.2 353.4L833.4 353.2L832.7 353.4L832.0 353.6L831.3 353.9L830.5 353.4L829.8 354.0L829.1 353.2L828.4 354.2L827.7 353.8L826.9 353.1L826.2 352.4L825.5 353.1L824.8 354.0L824.1 354.6L823.3 354.4L822.6 353.0L821.9 353.0L821.2 352.3L820.5 351.8L819.7 352.6L819.0 353.1L818.3 351.7L817.6 352.5L816.8 353.4L816.1 352.1L815.4 351.7L814.7 352.6L814.0 353.3L813.2 352.2L812.5 351.6L811.8 351.0L811.1 350.8L810.4 350.6L809.6 351.4L808.9 351.7L808.2 350.6L807.5 352.2L806.8 351.5L806.0 351.0L805.3 350.6L804.6 350.2L803.9 350.6L803.1 352.2L802.4 350.8L801.7 349.9L801.0 349.6L800.3 349.8L799.5 349.4L798.8 350.3L798.1 350.0L797.4 350.1L796.7 350.2L795.9 350.8L795.2 350.1L794.5 348.3L793.8 348.7L793.1 349.0L792.3 348.7L791.6 349.1L790.9 349.3L790.2 350.0L789.5 348.8L788.7 347.9L788.0 347.8L787.3 347.6L786.6 350.1L785.8 348.2L785.1 346.8L784.4 347.3L783.7 347.3L783.0 347.1L782.2 347.0L781.5 347.0L780.8 348.2L780.1 348.5L779.4 347.7L778.6 347.2L777.9 347.3L777.2 346.3L776.5 346.5L775.8 345.9L775.0 346.4L774.3 347.1L773.6 346.0L772.9 345.6L772.1 345.0L771.4 345.6L770.7 345.5L770.0 346.0L769.3 345.1L768.5 345.1L767.8 346.8L767.1 344.3L766.4 345.2L765.7 344.8L764.9 344.7L764.2 346.0L763.5 344.5L762.8 343.0L762.1 344.1L761.3 345.3L760.6 345.3L759.9 345.2L759.2 345.6L758.4 343.7L757.7 343.0L757.0 342.9L756.3 343.3L755.6 344.2L754.8 344.2L754.1 342.5L753.4 341.7L752.7 343.0L752.0 342.2L751.2 342.1L750.5 341.9L749.8 341.6L749.1 341.8L748.4 341.3L747.6 341.3L746.9 341.4L746.2 341.8L745.5 341.3L744.7 340.5L744.0 341.0L743.3 340.0L742.6 340.0L741.9 341.8L741.1 341.8L740.4 339.7L739.7 339.2L739.0 340.7L738.3 338.7L737.5 339.2L736.8 341.2L736.1 340.6L735.4 339.7L734.7 339.5L733.9 338.2L733.2 338.4L732.5 338.6L731.8 338.2L731.0 337.6L730.3 336.6L729.6 336.5L728.9 338.4L728.2 338.4L727.4 335.9L726.7 336.2L726.0 336.0L725.3 335.5L724.6 335.1L723.8 335.7L723.1 335.9L722.4 334.8L721.7 334.9L721.0 334.4L720.2 334.0L719.5 334.6L718.8 334.3L718.1 335.4L717.4 333.6L716.6 334.4L715.9 334.0L715.2 333.4L714.5 333.9L713.7 333.1L713.0 332.1L712.3 331.5L711.6 332.4L710.9 332.7L710.1 332.5L709.4 334.2L708.7 337.0L708.0 333.4L707.3 331.3L706.5 330.8L705.8 330.7L705.1 330.1L704.4 329.6L703.7 329.8L702.9 330.2L702.2 330.1L701.5 328.6L700.8 328.1L700.0 328.2L699.3 328.8L698.6 328.9L697.9 327.6L697.2 327.2L696.4 326.5L695.7 326.7L695.0 327.3L694.3 327.5L693.6 326.7L692.8 326.3L692.1 326.6L691.4 326.1L690.7 326.0L690.0 324.9L689.2 325.5L688.5 325.1L687.8 324.2L687.1 324.5L686.3 324.3L685.6 324.0L684.9 323.1L684.2 322.1L683.5 321.9L682.7 322.4L682.0 322.8L681.3 323.4L680.6 322.3L679.9 321.6L679.1 321.6L678.4 320.7L677.7 320.3L677.0 320.9L676.3 320.3L675.5 318.9L674.8 318.7L674.1 318.5L673.4 319.2L672.6 319.1L671.9 318.2L671.2 317.8L670.5 318.1L669.8 318.2L669.0 317.3L668.3 318.0L667.6 317.1L666.9 317.0L666.2 317.3L665.4 316.3L664.7 314.5L664.0 315.2L663.3 314.6L662.6 314.0L661.8 315.0L661.1 315.9L660.4 314.8L659.7 313.4L658.9 314.0L658.2 313.2L657.5 311.5L656.8 312.2L656.1 312.8L655.3 312.2L654.6 313.1L653.9 311.8L653.2 310.2L652.5 310.0L651.7 310.6L651.0 310.1L650.3 309.6L649.6 308.6L648.9 308.3L648.1 309.6L647.4 309.1L646.7 309.3L646.0 308.0L645.3 306.5L644.5 307.3L643.8 309.9L643.1 307.4L642.4 305.3L641.6 305.3L640.9 305.8L640.2 304.4L639.5 303.7L638.8 303.4L638.0 304.5L637.3 303.0L636.6 304.6L635.9 302.3L635.2 301.7L634.4 301.5L633.7 301.0L633.0 300.7L632.3 300.8L631.6 300.3L630.8 300.1L630.1 299.2L629.4 297.9L628.7 298.0L627.9 297.4L627.2 296.9L626.5 297.3L625.8 297.8L625.1 296.9L624.3 298.1L623.6 296.1L622.9 295.6L622.2 295.7L621.5 294.6L620.7 295.4L620.0 293.7L619.3 292.8L618.6 292.3L617.9 292.7L617.1 292.3L616.4 292.7L615.7 291.1L615.0 290.7L614.2 291.2L613.5 290.0L612.8 290.0L612.1 288.8L611.4 287.6L610.6 286.9L609.9 286.6L609.2 286.2L608.5 286.8L607.8 286.5L607.0 286.4L606.3 284.6L605.6 283.9L604.9 284.7L604.2 284.9L603.4 284.0L602.7 281.9L602.0 281.7L601.3 281.0L600.5 280.9L599.8 280.8L599.1 279.4L598.4 278.2L597.7 277.7L596.9 277.0L596.2 276.4L595.5 276.3L594.8 275.7L594.1 275.5L593.3 273.6L592.6 274.0L591.9 274.1L591.2 272.8L590.5 270.4L589.7 270.7L589.0 269.8L588.3 269.4L587.6 269.1L586.8 267.9L586.1 266.2L585.4 265.7L584.7 265.1L584.0 264.3L583.2 263.8L582.5 264.3L581.8 261.1L581.1 259.9L580.4 258.9L579.6 258.2L578.9 257.1L578.2 255.3L577.5 254.7L576.8 252.8L576.0 253.1L575.3 251.0L574.6 251.0L573.9 248.2L573.2 246.8L572.4 246.0L571.7 245.2L571.0 241.9L570.3 240.4L569.5 238.7L568.8 235.9L568.1 235.4L567.4 234.2L566.7 231.7L565.9 230.9L565.2 230.3L564.5 226.9L563.8 225.1L563.1 221.9L562.3 219.0L561.6 216.8L560.9 214.3L560.2 212.5L559.5 209.5L558.7 207.0L558.0 203.3L557.3 200.0L556.6 198.7L555.8 193.5L555.1 188.0L554.4 182.8L553.7 176.7L553.0 169.6L552.2 160.3L551.5 75.6L550.8 56.0Z" fill="#4a5ee8"/>
<path d="M550.8 56.0L551.5 75.6L552.2 160.3L553.0 169.4L553.7 176.1L554.4 181.8L555.1 186.6L555.8 190.8L556.6 195.3L557.3 198.1L558.0 201.7L558.7 205.4L559.5 207.6L560.2 210.0L560.9 212.5L561.6 214.9L562.3 216.6L563.1 219.4L563.8 222.4L564.5 224.2L565.2 225.9L565.9 228.0L566.7 230.0L567.4 231.7L568.1 233.3L568.8 234.6L569.5 236.6L570.3 238.2L571.0 240.1L571.7 241.3L572.4 242.5L573.2 244.0L573.9 245.5L574.6 247.3L575.3 248.6L576.0 249.9L576.8 250.9L577.5 252.6L578.2 253.6L578.9 255.1L579.6 256.0L580.4 256.5L581.1 257.8L581.8 258.8L582.5 260.2L583.2 261.6L584.0 262.4L584.7 263.2L585.4 263.5L586.1 264.6L586.8 265.8L587.6 266.7L588.3 267.2L589.0 268.2L589.7 268.8L590.5 268.9L591.2 269.8L591.9 270.9L592.6 271.2L593.3 271.9L594.1 273.3L594.8 273.9L595.5 274.4L596.2 275.0L596.9 275.5L597.7 276.0L598.4 276.7L599.1 277.7L599.8 278.5L600.5 278.6L601.3 279.1L602.0 279.5L602.7 279.8L603.4 280.9L604.2 281.6L604.9 281.8L605.6 282.5L606.3 282.9L607.0 283.9L607.8 284.4L608.5 284.2L609.2 284.1L609.9 284.8L610.6 285.2L611.4 285.7L612.1 286.7L612.8 287.7L613.5 287.8L614.2 287.9L615.0 287.9L615.7 288.5L616.4 289.0L617.1 289.9L617.9 290.3L618.6 290.8L619.3 291.2L620.0 291.8L620.7 292.5L621.5 292.8L622.2 292.9L622.9 293.5L623.6 294.2L624.3 294.8L625.1 295.0L625.8 295.5L626.5 295.3L627.2 295.5L627.9 295.7L628.7 296.6L629.4 296.6L630.1 297.0L630.8 297.9L631.6 298.0L632.3 298.3L633.0 299.1L633.7 299.4L634.4 299.9L635.2 300.1L635.9 300.7L636.6 301.2L637.3 301.5L638.0 302.1L638.8 301.9L639.5 302.1L640.2 302.7L640.9 303.2L641.6 303.2L642.4 303.4L643.1 304.1L643.8 304.7L644.5 304.5L645.3 304.4L646.0 305.2L646.7 305.8L647.4 305.9L648.1 306.1L648.9 306.0L649.6 306.8L650.3 307.4L651.0 307.9L651.7 308.2L652.5 308.5L653.2 308.4L653.9 308.8L654.6 308.6L655.3 309.3L656.1 310.3L656.8 310.4L657.5 310.0L658.2 310.7L658.9 310.9L659.7 311.1L660.4 311.7L661.1 312.2L661.8 312.6L662.6 312.2L663.3 312.5L664.0 312.9L664.7 312.9L665.4 314.2L666.2 314.8L666.9 314.4L667.6 314.7L668.3 314.9L669.0 315.2L669.8 315.4L670.5 315.9L671.2 315.9L671.9 316.7L672.6 317.2L673.4 317.6L674.1 316.9L674.8 317.1L675.5 317.2L676.3 317.8L677.0 318.3L677.7 318.1L678.4 318.0L679.1 318.3L679.9 319.4L680.6 320.2L681.3 320.5L682.0 320.2L682.7 320.0L683.5 320.2L684.2 320.1L684.9 320.6L685.6 321.6L686.3 321.8L687.1 322.0L687.8 322.3L688.5 323.1L689.2 323.3L690.0 322.8L690.7 322.9L691.4 323.3L692.1 324.2L692.8 324.5L693.6 324.5L694.3 325.2L695.0 324.8L695.7 324.2L696.4 324.2L697.2 325.1L697.9 325.6L698.6 325.7L699.3 326.3L700.0 326.8L700.8 326.8L701.5 327.3L702.2 327.8L702.9 327.5L703.7 327.4L704.4 327.8L705.1 328.4L705.8 328.9L706.5 328.3L707.3 328.0L708.0 328.8L708.7 329.1L709.4 329.2L710.1 329.6L710.9 330.0L711.6 330.3L712.3 329.8L713.0 329.9L713.7 330.4L714.5 330.7L715.2 331.4L715.9 331.5L716.6 331.6L717.4 332.1L718.1 332.2L718.8 332.5L719.5 332.5L720.2 332.4L721.0 332.5L721.7 332.6L722.4 332.5L723.1 333.0L723.8 333.6L724.6 333.6L725.3 333.7L726.0 334.5L726.7 334.1L727.4 334.4L728.2 334.9L728.9 335.1L729.6 334.7L730.3 334.9L731.0 335.2L731.8 335.8L732.5 335.9L733.2 336.0L733.9 336.4L734.7 336.9L735.4 336.8L736.1 336.7L736.8 336.4L737.5 336.7L738.3 336.7L739.0 337.3L739.7 337.3L740.4 337.0L741.1 337.1L741.9 337.6L742.6 337.9L743.3 337.9L744.0 338.0L744.7 338.2L745.5 338.3L746.2 338.6L746.9 339.1L747.6 339.6L748.4 339.5L749.1 339.4L749.8 340.2L750.5 340.2L751.2 340.0L752.0 340.2L752.7 339.9L753.4 339.8L754.1 340.2L754.8 341.1L755.6 341.0L756.3 341.0L757.0 341.0L757.7 341.0L758.4 341.5L759.2 341.9L759.9 342.2L760.6 341.8L761.3 342.3L762.1 342.2L762.8 341.6L763.5 342.5L764.2 343.2L764.9 343.1L765.7 342.8L766.4 342.6L767.1 342.2L767.8 342.9L768.5 343.1L769.3 342.9L770.0 343.2L770.7 343.5L771.4 344.2L772.1 343.5L772.9 343.1L773.6 343.0L774.3 343.7L775.0 344.2L775.8 344.2L776.5 344.3L777.2 344.8L777.9 345.0L778.6 345.2L779.4 344.8L780.1 344.3L780.8 344.7L781.5 344.9L782.2 345.4L783.0 345.3L783.7 345.4L784.4 345.4L785.1 345.1L785.8 345.6L786.6 346.2L787.3 345.9L788.0 346.1L788.7 346.2L789.5 346.1L790.2 346.3L790.9 346.7L791.6 346.6L792.3 346.7L793.1 346.7L793.8 346.4L794.5 346.7L795.2 347.9L795.9 348.0L796.7 347.6L797.4 347.9L798.1 348.2L798.8 348.1L799.5 347.6L800.3 347.1L801.0 347.3L801.7 348.0L802.4 348.8L803.1 348.9L803.9 348.4L804.6 348.4L805.3 349.1L806.0 349.4L806.8 348.6L807.5 348.8L808.2 348.9L808.9 348.8L809.6 348.8L810.4 349.0L811.1 349.0L811.8 348.7L812.5 349.3L813.2 349.8L814.0 350.0L814.7 350.0L815.4 350.0L816.1 350.1L816.8 350.6L817.6 350.2L818.3 350.2L819.0 350.6L819.7 350.2L820.5 349.8L821.2 350.0L821.9 350.2L822.6 350.4L823.3 350.5L824.1 351.1L824.8 351.2L825.5 351.1L826.2 351.0L826.9 351.4L827.7 351.8L828.4 352.0L829.1 351.3L829.8 351.4L830.5 351.7L831.3 351.3L832.0 351.5L832.7 351.7L833.4 351.6L834.2 351.4L834.9 351.6L835.6 351.5L836.3 352.2L837.0 352.0L837.8 352.1L838.5 352.2L839.2 352.3" stroke="#4a5ee8" stroke-width="2.50" fill="none" stroke-linejoin="round"/>
<path d="M550.8 56.8L551.5 80.5L552.2 162.6L553.0 174.8L553.7 183.0L554.4 189.5L555.1 195.0L555.8 199.9L556.6 203.7L557.3 207.8L558.0 211.2L558.7 214.1L559.5 215.5L560.2 217.8L560.9 221.9L561.6 224.9L562.3 227.9L563.1 228.3L563.8 230.8L564.5 232.5L565.2 235.5L565.9 237.5L566.7 239.4L567.4 240.1L568.1 241.4L568.8 243.1L569.5 243.5L570.3 245.6L571.0 247.1L571.7 247.4L572.4 249.8L573.2 251.4L573.9 252.6L574.6 253.6L575.3 255.3L576.0 256.2L576.8 257.0L577.5 257.1L578.2 256.6L578.9 258.8L579.6 260.3L580.4 261.9L581.1 262.1L581.8 263.4L582.5 264.1L583.2 263.5L584.0 265.9L584.7 266.6L585.4 266.9L586.1 267.8L586.8 267.9L587.6 269.1L588.3 271.0L589.0 272.6L589.7 272.6L590.5 272.8L591.2 273.7L591.9 274.1L592.6 275.4L593.3 276.1L594.1 276.6L594.8 277.5L595.5 277.5L596.2 279.1L596.9 279.5L597.7 278.4L598.4 279.4L599.1 280.4L599.8 280.0L600.5 280.5L601.3 282.3L602.0 283.2L602.7 283.9L603.4 283.7L604.2 283.5L604.9 284.4L605.6 285.3L606.3 285.5L607.0 286.3L607.8 285.5L608.5 286.9L609.2 287.5L609.9 288.8L610.6 290.5L611.4 290.3L612.1 292.0L612.8 291.1L613.5 291.4L614.2 293.8L615.0 293.7L615.7 292.8L616.4 293.8L617.1 293.8L617.9 293.7L618.6 294.2L619.3 295.2L620.0 295.4L620.7 296.1L621.5 294.9L622.2 297.6L622.9 297.6L623.6 297.5L624.3 298.6L625.1 299.7L625.8 299.8L626.5 299.2L627.2 299.3L627.9 300.4L628.7 300.8L629.4 302.8L630.1 303.0L630.8 303.8L631.6 302.0L632.3 301.0L633.0 302.5L633.7 304.1L634.4 305.0L635.2 305.0L635.9 305.1L636.6 305.1L637.3 305.3L638.0 305.1L638.8 304.4L639.5 306.4L640.2 307.8L640.9 308.0L641.6 308.6L642.4 307.7L643.1 306.2L643.8 308.9L644.5 310.4L645.3 310.7L646.0 310.4L646.7 310.9L647.4 312.1L648.1 312.5L648.9 312.4L649.6 313.7L650.3 312.5L651.0 313.2L651.7 314.3L652.5 314.3L653.2 313.8L653.9 313.7L654.6 314.9L655.3 314.8L656.1 315.4L656.8 316.9L657.5 316.9L658.2 317.5L658.9 317.9L659.7 317.6L660.4 317.5L661.1 317.5L661.8 316.9L662.6 317.5L663.3 319.3L664.0 320.0L664.7 319.4L665.4 320.0L666.2 321.5L666.9 321.2L667.6 321.5L668.3 321.7L669.0 321.7L669.8 322.5L670.5 322.7L671.2 321.9L671.9 322.9L672.6 323.3L673.4 322.9L674.1 324.2L674.8 324.1L675.5 324.1L676.3 324.1L677.0 324.6L677.7 324.4L678.4 324.8L679.1 324.9L679.9 326.0L680.6 326.4L681.3 326.5L682.0 326.9L682.7 326.1L683.5 325.7L684.2 326.8L684.9 327.7L685.6 328.1L686.3 328.7L687.1 328.5L687.8 329.0L688.5 330.4L689.2 329.7L690.0 328.6L690.7 328.5L691.4 330.5L692.1 329.9L692.8 329.9L693.6 331.1L694.3 331.0L695.0 330.4L695.7 331.7L696.4 332.6L697.2 332.1L697.9 331.2L698.6 332.1L699.3 333.3L700.0 332.6L700.8 333.0L701.5 333.0L702.2 333.5L702.9 334.7L703.7 333.2L704.4 333.4L705.1 333.7L705.8 333.3L706.5 334.0L707.3 335.3L708.0 335.1L708.7 334.5L709.4 334.4L710.1 335.8L710.9 335.8L711.6 335.6L712.3 335.2L713.0 336.6L713.7 337.4L714.5 336.3L715.2 336.8L715.9 338.2L716.6 337.6L717.4 336.5L718.1 337.0L718.8 338.1L719.5 338.4L720.2 338.1L721.0 338.1L721.7 339.8L722.4 339.8L723.1 338.8L723.8 338.1L724.6 339.0L725.3 340.2L726.0 340.6L726.7 339.4L727.4 340.3L728.2 340.2L728.9 340.6L729.6 340.6L730.3 339.3L731.0 340.6L731.8 341.5L732.5 342.1L733.2 341.3L733.9 340.9L734.7 341.2L735.4 339.8L736.1 340.1L736.8 342.4L737.5 341.5L738.3 342.0L739.0 341.9L739.7 342.8L740.4 343.2L741.1 343.0L741.9 342.5L742.6 342.2L743.3 342.1L744.0 342.9L744.7 343.5L745.5 343.4L746.2 343.2L746.9 342.6L747.6 343.7L748.4 343.8L749.1 344.5L749.8 343.2L750.5 343.1L751.2 342.6L752.0 342.3L752.7 343.2L753.4 341.3L754.1 342.2L754.8 342.8L755.6 343.8L756.3 344.6L757.0 344.7L757.7 344.1L758.4 344.0L759.2 344.4L759.9 345.3L760.6 346.1L761.3 346.0L762.1 345.8L762.8 346.0L763.5 346.2L764.2 346.1L764.9 344.4L765.7 343.5L766.4 345.0L767.1 344.7L767.8 345.7L768.5 346.2L769.3 346.7L770.0 346.4L770.7 346.6L771.4 346.7L772.1 345.9L772.9 345.5L773.6 347.3L774.3 345.8L775.0 346.2L775.8 345.8L776.5 346.1L777.2 346.3L777.9 346.8L778.6 347.4L779.4 347.3L780.1 346.8L780.8 347.3L781.5 347.3L782.2 347.7L783.0 347.2L783.7 347.4L784.4 347.9L785.1 347.9L785.8 348.2L786.6 347.5L787.3 345.7L788.0 346.2L788.7 348.0L789.5 348.1L790.2 348.4L790.9 348.6L791.6 349.4L792.3 348.0L793.1 349.3L793.8 348.8L794.5 348.8L795.2 349.4L795.9 349.8L796.7 350.2L797.4 350.1L798.1 349.9L798.8 349.8L799.5 349.9L800.3 349.0L801.0 347.5L801.7 348.0L802.4 349.4L803.1 350.5L803.9 350.2L804.6 349.8L805.3 348.3L806.0 350.2L806.8 350.8L807.5 351.2L808.2 350.9L808.9 351.3L809.6 350.7L810.4 349.0L811.1 350.5L811.8 350.3L812.5 350.5L813.2 351.0L814.0 351.3L814.7 351.8L815.4 351.4L816.1 351.1L816.8 351.9L817.6 350.5L818.3 351.4L819.0 351.6L819.7 352.9L820.5 352.2L821.2 351.3L821.9 353.0L822.6 351.8L823.3 350.2L824.1 352.4L824.8 352.3L825.5 353.1L826.2 352.3L826.9 352.1L827.7 352.8L828.4 353.4L829.1 353.6L829.8 353.3L830.5 354.2L831.3 354.5L832.0 354.6L832.7 353.0L833.4 353.4L834.2 354.1L834.9 354.2L835.6 354.3L836.3 353.7L837.0 353.7L837.8 354.7L838.5 354.5L839.2 354.7L839.2 358.1L838.5 359.0L837.8 358.7L837.0 358.3L836.3 357.9L835.6 359.2L834.9 358.8L834.2 358.3L833.4 356.8L832.7 357.5L832.0 357.9L831.3 358.4L830.5 358.4L829.8 358.1L829.1 357.1L828.4 357.4L827.7 357.2L826.9 356.4L826.2 356.8L825.5 357.9L824.8 357.8L824.1 357.4L823.3 356.1L822.6 356.1L821.9 356.0L821.2 356.2L820.5 356.8L819.7 356.6L819.0 357.4L818.3 356.3L817.6 356.4L816.8 355.8L816.1 354.9L815.4 354.6L814.7 355.0L814.0 356.2L813.2 357.5L812.5 355.7L811.8 356.9L811.1 356.7L810.4 354.9L809.6 357.0L808.9 356.4L808.2 354.3L807.5 355.3L806.8 355.0L806.0 355.5L805.3 357.8L804.6 362.6L803.9 358.0L803.1 355.8L802.4 353.8L801.7 352.8L801.0 352.4L800.3 353.2L799.5 354.0L798.8 354.5L798.1 353.8L797.4 354.7L796.7 354.1L795.9 354.2L795.2 353.3L794.5 353.3L793.8 353.7L793.1 353.9L792.3 354.7L791.6 353.8L790.9 353.1L790.2 352.4L789.5 351.5L788.7 351.8L788.0 351.8L787.3 351.6L786.6 352.1L785.8 352.7L785.1 352.6L784.4 351.4L783.7 352.4L783.0 351.9L782.2 353.6L781.5 356.7L780.8 354.0L780.1 350.9L779.4 350.7L778.6 351.5L777.9 350.5L777.2 350.3L776.5 352.8L775.8 356.3L775.0 352.5L774.3 350.7L773.6 352.0L772.9 352.9L772.1 351.8L771.4 350.6L770.7 350.2L770.0 350.4L769.3 351.1L768.5 351.1L767.8 351.6L767.1 349.9L766.4 350.4L765.7 349.8L764.9 349.3L764.2 351.4L763.5 351.8L762.8 350.3L762.1 349.9L761.3 351.4L760.6 349.7L759.9 348.3L759.2 348.1L758.4 347.8L757.7 347.6L757.0 348.8L756.3 348.9L755.6 349.6L754.8 348.8L754.1 347.5L753.4 347.8L752.7 348.2L752.0 347.4L751.2 346.6L750.5 347.1L749.8 347.5L749.1 347.3L748.4 347.8L747.6 347.8L746.9 348.3L746.2 348.5L745.5 347.7L744.7 347.0L744.0 346.5L743.3 346.1L742.6 347.0L741.9 347.1L741.1 347.9L740.4 350.0L739.7 347.8L739.0 346.3L738.3 346.5L737.5 346.0L736.8 346.7L736.1 345.8L735.4 345.7L734.7 346.1L733.9 346.8L733.2 346.3L732.5 345.2L731.8 345.7L731.0 344.8L730.3 343.8L729.6 343.4L728.9 344.2L728.2 345.0L727.4 343.4L726.7 343.7L726.0 344.0L725.3 344.4L724.6 343.1L723.8 343.2L723.1 344.4L722.4 345.0L721.7 344.2L721.0 342.5L720.2 342.0L719.5 342.5L718.8 343.4L718.1 343.8L717.4 345.1L716.6 343.4L715.9 342.0L715.2 341.4L714.5 342.0L713.7 342.3L713.0 341.3L712.3 339.9L711.6 339.9L710.9 339.6L710.1 338.8L709.4 339.3L708.7 338.6L708.0 338.8L707.3 339.3L706.5 339.1L705.8 340.0L705.1 338.9L704.4 338.0L703.7 338.4L702.9 339.0L702.2 340.9L701.5 339.4L700.8 337.0L700.0 337.2L699.3 337.5L698.6 337.3L697.9 336.6L697.2 337.3L696.4 336.9L695.7 336.1L695.0 334.7L694.3 335.4L693.6 335.8L692.8 334.6L692.1 335.4L691.4 336.4L690.7 334.8L690.0 333.7L689.2 333.7L688.5 334.1L687.8 334.2L687.1 336.3L686.3 333.9L685.6 331.3L684.9 331.5L684.2 331.7L683.5 333.0L682.7 332.1L682.0 331.1L681.3 330.9L680.6 329.9L679.9 331.2L679.1 331.9L678.4 330.7L677.7 330.4L677.0 329.1L676.3 327.9L675.5 327.5L674.8 327.2L674.1 327.8L673.4 326.6L672.6 326.7L671.9 327.3L671.2 326.6L670.5 326.3L669.8 326.7L669.0 326.9L668.3 326.5L667.6 327.3L666.9 325.8L666.2 325.3L665.4 324.4L664.7 323.0L664.0 323.9L663.3 323.3L662.6 322.4L661.8 323.5L661.1 322.5L660.4 321.2L659.7 321.8L658.9 323.1L658.2 323.4L657.5 322.7L656.8 320.9L656.1 320.3L655.3 319.9L654.6 319.8L653.9 319.8L653.2 319.6L652.5 318.9L651.7 318.3L651.0 317.0L650.3 316.4L649.6 318.2L648.9 316.8L648.1 315.7L647.4 316.4L646.7 316.0L646.0 315.3L645.3 315.4L644.5 315.4L643.8 314.2L643.1 313.1L642.4 312.8L641.6 312.4L640.9 312.2L640.2 311.7L639.5 312.0L638.8 311.9L638.0 312.0L637.3 310.8L636.6 309.7L635.9 308.9L635.2 308.9L634.4 308.6L633.7 308.7L633.0 308.4L632.3 307.9L631.6 307.3L630.8 308.9L630.1 307.6L629.4 306.0L628.7 306.0L627.9 304.1L627.2 303.0L626.5 304.1L625.8 304.2L625.1 303.7L624.3 302.8L623.6 302.9L622.9 302.2L622.2 301.5L621.5 302.2L620.7 301.1L620.0 300.6L619.3 299.5L618.6 298.3L617.9 297.8L617.1 297.4L616.4 297.7L615.7 299.7L615.0 302.3L614.2 299.2L613.5 296.4L612.8 296.5L612.1 295.5L611.4 294.6L610.6 294.5L609.9 293.1L609.2 292.2L608.5 291.3L607.8 291.3L607.0 290.5L606.3 290.5L605.6 289.6L604.9 289.0L604.2 288.6L603.4 288.1L602.7 287.8L602.0 287.2L601.3 288.6L600.5 291.2L599.8 288.4L599.1 284.6L598.4 284.2L597.7 284.5L596.9 285.1L596.2 283.0L595.5 282.2L594.8 280.9L594.1 281.2L593.3 280.7L592.6 279.0L591.9 278.4L591.2 278.5L590.5 276.6L589.7 276.3L589.0 275.8L588.3 274.7L587.6 273.8L586.8 273.9L586.1 273.5L585.4 272.1L584.7 270.7L584.0 269.9L583.2 269.9L582.5 270.4L581.8 268.7L581.1 267.5L580.4 266.1L579.6 265.0L578.9 263.4L578.2 262.6L577.5 262.1L576.8 261.1L576.0 259.7L575.3 258.4L574.6 257.1L573.9 256.9L573.2 256.6L572.4 254.7L571.7 252.3L571.0 252.2L570.3 249.0L569.5 248.0L568.8 246.2L568.1 244.8L567.4 244.0L566.7 243.1L565.9 241.2L565.2 239.3L564.5 236.4L563.8 236.2L563.1 233.6L562.3 232.1L561.6 230.0L560.9 228.6L560.2 226.3L559.5 223.6L558.7 220.0L558.0 215.3L557.3 212.1L556.6 209.2L555.8 204.5L555.1 198.5L554.4 191.9L553.7 185.1L553.0 175.6L552.2 162.6L551.5 80.5L550.8 56.8Z" fill="#e95f60"/>
<path d="M550.8 56.8L551.5 80.5L552.2 162.6L553.0 175.1L553.7 183.9L554.4 191.0L555.1 196.9L555.8 202.3L556.6 206.5L557.3 209.8L558.0 213.4L558.7 216.7L559.5 219.8L560.2 222.8L560.9 225.3L561.6 227.8L562.3 229.7L563.1 231.2L563.8 232.6L564.5 234.6L565.2 237.0L565.9 239.2L566.7 241.0L567.4 242.0L568.1 243.4L568.8 244.7L569.5 245.9L570.3 247.0L571.0 249.0L571.7 250.2L572.4 251.6L573.2 253.0L573.9 254.0L574.6 254.9L575.3 256.7L576.0 257.9L576.8 258.6L577.5 259.1L578.2 259.6L578.9 260.6L579.6 262.2L580.4 263.3L581.1 264.3L581.8 265.8L582.5 266.5L583.2 267.5L584.0 268.2L584.7 268.5L585.4 269.8L586.1 270.4L586.8 270.8L587.6 272.1L588.3 273.3L589.0 274.0L589.7 274.5L590.5 274.5L591.2 275.3L591.9 276.1L592.6 277.0L593.3 277.9L594.1 278.9L594.8 279.3L595.5 279.6L596.2 280.8L596.9 281.7L597.7 281.7L598.4 281.6L599.1 282.4L599.8 283.1L600.5 283.4L601.3 284.2L602.0 284.8L602.7 286.0L603.4 286.7L604.2 286.8L604.9 287.0L605.6 287.9L606.3 288.3L607.0 288.9L607.8 289.8L608.5 289.8L609.2 290.2L609.9 291.5L610.6 292.6L611.4 293.1L612.1 293.4L612.8 294.0L613.5 294.1L614.2 295.2L615.0 295.7L615.7 295.3L616.4 295.6L617.1 295.6L617.9 296.1L618.6 297.0L619.3 297.2L620.0 298.0L620.7 298.6L621.5 299.1L622.2 299.9L622.9 300.6L623.6 300.6L624.3 301.2L625.1 301.7L625.8 301.5L626.5 301.4L627.2 301.5L627.9 302.8L628.7 303.7L629.4 304.2L630.1 305.1L630.8 305.4L631.6 305.4L632.3 305.3L633.0 305.4L633.7 306.2L634.4 306.8L635.2 307.0L635.9 307.2L636.6 307.7L637.3 308.2L638.0 308.0L638.8 308.7L639.5 309.4L640.2 310.1L640.9 310.5L641.6 310.5L642.4 310.5L643.1 310.9L643.8 312.0L644.5 312.4L645.3 312.5L646.0 312.4L646.7 312.8L647.4 313.8L648.1 314.1L648.9 314.7L649.6 315.2L650.3 314.6L651.0 314.9L651.7 315.8L652.5 316.2L653.2 316.1L653.9 316.5L654.6 316.8L655.3 317.2L656.1 317.9L656.8 318.4L657.5 319.0L658.2 319.4L658.9 319.7L659.7 319.4L660.4 319.7L661.1 319.5L661.8 319.5L662.6 320.2L663.3 321.2L664.0 321.4L664.7 321.3L665.4 322.5L666.2 322.9L666.9 322.7L667.6 322.9L668.3 323.1L669.0 323.5L669.8 324.6L670.5 324.3L671.2 324.4L671.9 324.6L672.6 324.7L673.4 325.0L674.1 325.6L674.8 325.5L675.5 325.7L676.3 326.3L677.0 326.9L677.7 326.8L678.4 327.0L679.1 327.6L679.9 327.6L680.6 328.1L681.3 328.9L682.0 329.1L682.7 329.3L683.5 329.8L684.2 329.5L684.9 329.4L685.6 329.4L686.3 330.2L687.1 330.8L687.8 330.9L688.5 331.9L689.2 332.1L690.0 331.9L690.7 331.6L691.4 332.1L692.1 332.3L692.8 331.9L693.6 332.6L694.3 332.8L695.0 332.7L695.7 333.8L696.4 334.7L697.2 334.4L697.9 334.0L698.6 334.4L699.3 334.9L700.0 334.8L700.8 335.1L701.5 335.4L702.2 335.8L702.9 336.2L703.7 335.8L704.4 336.5L705.1 336.6L705.8 336.4L706.5 336.2L707.3 336.9L708.0 336.7L708.7 336.1L709.4 336.6L710.1 337.1L710.9 337.4L711.6 337.7L712.3 338.2L713.0 339.1L713.7 339.3L714.5 339.2L715.2 339.8L715.9 340.3L716.6 339.7L717.4 339.2L718.1 339.9L718.8 340.4L719.5 339.9L720.2 340.3L721.0 340.9L721.7 341.3L722.4 341.3L723.1 341.2L723.8 341.0L724.6 341.1L725.3 341.8L726.0 342.0L726.7 341.6L727.4 341.7L728.2 342.5L728.9 342.6L729.6 341.9L730.3 341.7L731.0 342.5L731.8 343.1L732.5 343.4L733.2 343.2L733.9 342.6L734.7 343.0L735.4 343.1L736.1 343.5L736.8 344.5L737.5 344.1L738.3 343.9L739.0 344.0L739.7 344.4L740.4 344.7L741.1 344.4L741.9 344.3L742.6 344.3L743.3 344.2L744.0 344.6L744.7 345.0L745.5 345.0L746.2 344.8L746.9 344.5L747.6 345.2L748.4 345.7L749.1 346.0L749.8 345.4L750.5 344.9L751.2 344.9L752.0 345.4L752.7 345.9L753.4 346.0L754.1 345.6L754.8 346.0L755.6 346.7L756.3 346.6L757.0 346.4L757.7 346.3L758.4 346.0L759.2 346.1L759.9 346.7L760.6 347.5L761.3 347.6L762.1 347.3L762.8 347.5L763.5 347.7L764.2 347.8L764.9 347.4L765.7 347.7L766.4 347.9L767.1 347.4L767.8 347.7L768.5 348.1L769.3 348.3L770.0 348.4L770.7 348.6L771.4 348.9L772.1 349.0L772.9 349.0L773.6 349.3L774.3 348.7L775.0 348.6L775.8 348.8L776.5 348.5L777.2 348.2L777.9 348.5L778.6 349.3L779.4 349.0L780.1 349.0L780.8 349.9L781.5 349.8L782.2 349.5L783.0 349.3L783.7 349.6L784.4 349.7L785.1 349.9L785.8 349.9L786.6 350.0L787.3 350.1L788.0 349.9L788.7 349.9L789.5 350.1L790.2 350.6L790.9 351.0L791.6 350.8L792.3 350.3L793.1 351.2L793.8 351.0L794.5 350.9L795.2 351.0L795.9 351.3L796.7 351.7L797.4 351.6L798.1 351.7L798.8 352.1L799.5 352.1L800.3 351.3L801.0 351.0L801.7 350.8L802.4 351.1L803.1 352.0L803.9 352.2L804.6 352.3L805.3 352.5L806.0 352.7L806.8 353.2L807.5 353.3L808.2 352.8L808.9 353.4L809.6 353.3L810.4 352.8L811.1 353.0L811.8 352.8L812.5 352.6L813.2 352.9L814.0 352.8L814.7 353.2L815.4 353.2L816.1 353.5L816.8 354.0L817.6 353.9L818.3 353.7L819.0 354.1L819.7 354.5L820.5 354.5L821.2 354.2L821.9 354.7L822.6 354.5L823.3 354.5L824.1 355.1L824.8 355.2L825.5 355.1L826.2 354.8L826.9 354.4L827.7 355.1L828.4 355.4L829.1 355.5L829.8 355.9L830.5 355.9L831.3 356.3L832.0 356.1L832.7 355.4L833.4 355.3L834.2 355.6L834.9 355.9L835.6 356.1L836.3 355.8L837.0 355.9L837.8 356.9L838.5 356.6L839.2 356.7" stroke="#e95f60" stroke-width="2.50" fill="none" stroke-linejoin="round"/>
</g>
<text x="36.12" y="60.75" font-size="26.00"><tspan visibility="hidden">1</tspan>00</text><path d="M44.83 60.75L44.83 42.86L42.67 42.86C42.26 44.50 40.67 45.83 37.94 46.03L37.94 48.06L42.36 48.06L42.36 60.75Z"/>
<text x="52.78" y="182.45" font-size="26.00"><tspan visibility="hidden">1</tspan>0</text><path d="M61.49 182.45L61.49 164.56L59.33 164.56C58.92 166.20 57.33 167.53 54.60 167.73L54.60 169.76L59.02 169.76L59.02 182.45Z"/>
<text x="65.24" y="306.80" font-size="26.00"><tspan visibility="hidden">1</tspan></text><path d="M73.95 306.80L73.95 288.91L71.79 288.91C71.38 290.55 69.79 291.88 67.06 292.08L67.06 294.11L71.48 294.11L71.48 306.80Z"/>
<text x="42.36" y="430.45" font-size="26.00">0.<tspan visibility="hidden">1</tspan></text><path d="M72.75 430.45L72.75 412.56L70.59 412.56C70.18 414.20 68.59 415.53 65.86 415.73L65.86 417.76L70.28 417.76L70.28 430.45Z"/>
<text x="84.17" y="451.40" font-size="26.00">0</text>
<text x="143.11" y="451.40" font-size="26.00"><tspan visibility="hidden">1</tspan>00</text><path d="M151.82 451.40L151.82 433.51L149.66 433.51C149.25 435.15 147.66 436.48 144.93 436.68L144.93 438.71L149.35 438.71L149.35 451.40Z"/>
<text x="214.41" y="451.40" font-size="26.00">200</text>
<text x="287.21" y="451.40" font-size="26.00">300</text>
<text x="359.11" y="451.40" font-size="26.00">400</text>
<text x="220.00" y="489.90" font-size="26.50" text-anchor="middle">Epoch</text>
<text x="494.52" y="60.75" font-size="26.00"><tspan visibility="hidden">1</tspan>00</text><path d="M503.23 60.75L503.23 42.86L501.07 42.86C500.66 44.50 499.07 45.83 496.34 46.03L496.34 48.06L500.76 48.06L500.76 60.75Z"/>
<text x="511.18" y="182.45" font-size="26.00"><tspan visibility="hidden">1</tspan>0</text><path d="M519.89 182.45L519.89 164.56L517.73 164.56C517.32 166.20 515.73 167.53 513.00 167.73L513.00 169.76L517.42 169.76L517.42 182.45Z"/>
<text x="523.64" y="306.80" font-size="26.00"><tspan visibility="hidden">1</tspan></text><path d="M532.35 306.80L532.35 288.91L530.19 288.91C529.78 290.55 528.19 291.88 525.46 292.08L525.46 294.11L529.88 294.11L529.88 306.80Z"/>
<text x="500.76" y="430.45" font-size="26.00">0.<tspan visibility="hidden">1</tspan></text><path d="M531.15 430.45L531.15 412.56L528.99 412.56C528.58 414.20 526.99 415.53 524.26 415.73L524.26 417.76L528.68 417.76L528.68 430.45Z"/>
<text x="542.57" y="451.40" font-size="26.00">0</text>
<text x="601.51" y="451.40" font-size="26.00"><tspan visibility="hidden">1</tspan>00</text><path d="M610.22 451.40L610.22 433.51L608.06 433.51C607.65 435.15 606.06 436.48 603.33 436.68L603.33 438.71L607.75 438.71L607.75 451.40Z"/>
<text x="672.81" y="451.40" font-size="26.00">200</text>
<text x="745.61" y="451.40" font-size="26.00">300</text>
<text x="817.51" y="451.40" font-size="26.00">400</text>
<text x="678.40" y="489.90" font-size="26.50" text-anchor="middle">Epoch</text>
<text transform="translate(19.3,229) rotate(-90) scale(0.967 1)" text-anchor="middle" font-size="26.5">Test error (%)</text>
<text transform="translate(477.3,229.2) rotate(-90) scale(0.98 1)" text-anchor="middle" font-size="26.5">Train error (%)</text>
<g>
<rect x="140.8" y="73.6" width="17.5" height="4.6" fill="#9b9b9b"/>
<rect x="140.8" y="103.3" width="17.5" height="4.6" fill="#4f62ee"/>
<rect x="140.8" y="158.3" width="17.5" height="4.6" fill="#e66464"/>
<text transform="translate(166.30 82.70) scale(1.0500 1)" font-size="20.50">backprop</text>
<text transform="translate(166.30 112.30) scale(1.0360 1)" font-size="20.50">fixed feedback weights</text>
<text transform="translate(166.50 137.10) scale(1.0200 1)" font-size="20.50"><tspan dy="1.6">+</tspan><tspan dy="-1.6"> recurrent input</tspan></text>
<text transform="translate(166.30 167.30) scale(1.0300 1)" font-size="20.50">learned feedback weights</text>
<text transform="translate(166.50 192.10) scale(1.0200 1)" font-size="20.50"><tspan dy="1.6">+</tspan><tspan dy="-1.6"> recurrent input</tspan></text>
</g>
</svg>
</body></html>
